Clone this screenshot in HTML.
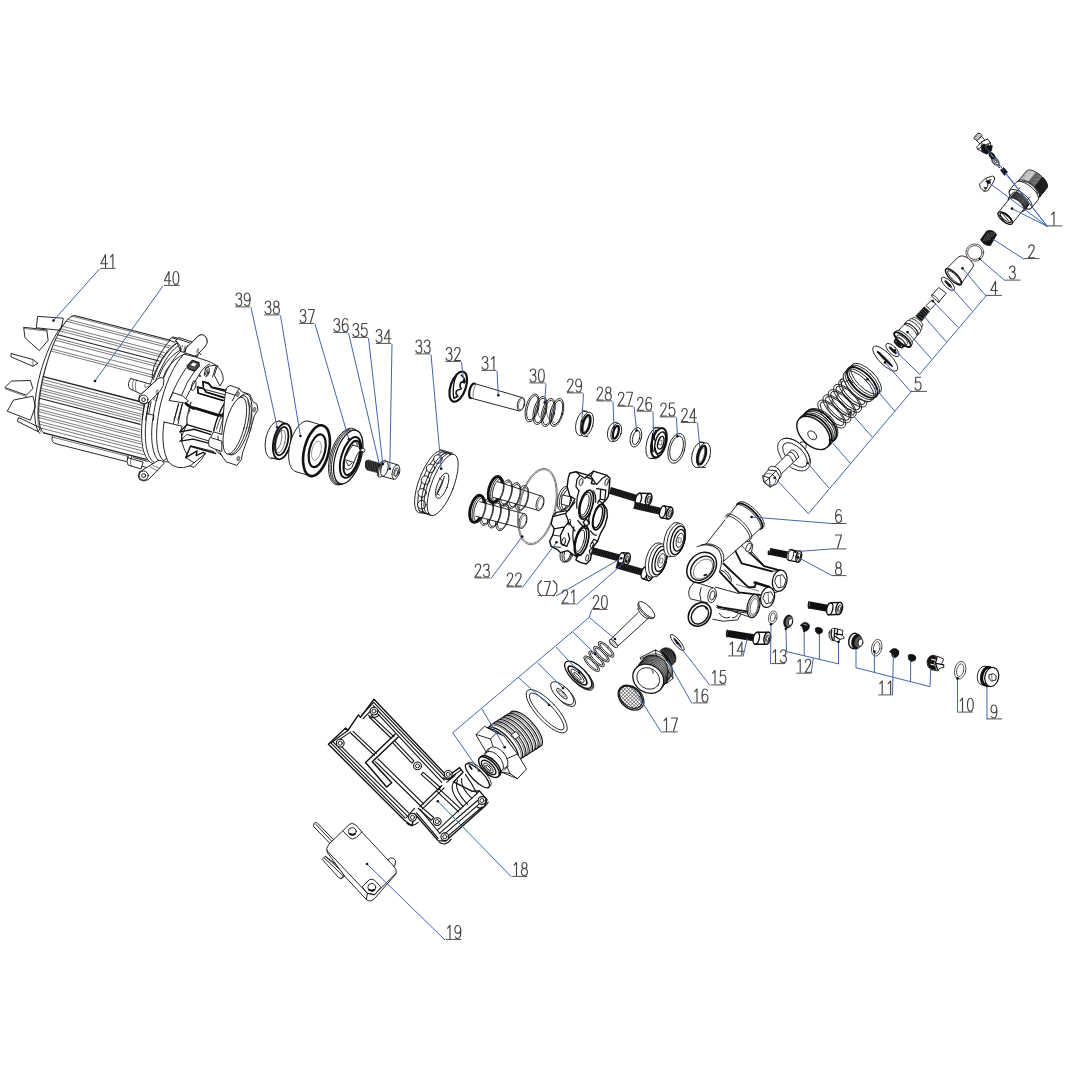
<!DOCTYPE html>
<html><head><meta charset="utf-8"><title>Exploded view</title>
<style>
html,body{margin:0;padding:0;background:#fff;font-family:"Liberation Sans",sans-serif;}
svg{display:block}
.k,.w,.t,.tw,.b,.kk{vector-effect:non-scaling-stroke}
.kk{fill:none;stroke:#111;stroke-width:1.8;stroke-linecap:round;stroke-linejoin:round}
.k{fill:none;stroke:#111;stroke-width:.9;stroke-linecap:round;stroke-linejoin:round}
.w{fill:#fff;stroke:#111;stroke-width:.9;stroke-linecap:round;stroke-linejoin:round}
.t{fill:none;stroke:#222;stroke-width:.6;stroke-linecap:round;stroke-linejoin:round}
.tw{fill:#fff;stroke:#222;stroke-width:.6;stroke-linejoin:round}
.b{fill:#111;stroke:#111;stroke-width:.6}
.l{fill:none;stroke:#4265ad;stroke-width:1}
.g{fill:none;stroke:#444;stroke-width:1.15;stroke-linecap:round;stroke-linejoin:round}
.u{fill:none;stroke:#484848;stroke-width:.95}
.d{fill:#111;stroke:none}
</style></head><body>
<svg width="1067" height="1067" viewBox="0 0 1067 1067">
<rect width="1067" height="1067" fill="#fff"/>
<defs><path id="g0" d="M3.5 0C1.6 0 .6 2 .6 6.5C.6 11 1.6 13 3.5 13C5.4 13 6.4 11 6.4 6.5C6.4 2 5.4 0 3.5 0Z"/><path id="g1" d="M1.6 2.6L4 0L4 13"/><path id="g2" d="M.8 3C.8 1.1 2 0 3.5 0C5.1 0 6.2 1.2 6.2 3C6.2 5 4.8 6.8 .5 13L6.6 13"/><path id="g3" d="M.8 2.4C1.1 .9 2.1 0 3.5 0C5.1 0 6.1 1.2 6.1 3C6.1 4.9 5 6 3.1 6C5.2 6 6.5 7.4 6.5 9.5C6.5 11.7 5.2 13 3.5 13C1.9 13 .8 12 .5 10.5"/><path id="g4" d="M5 13L5 0L.4 9.2L7 9.2"/><path id="g5" d="M6 0L1.3 0L.9 5.6C1.6 4.9 2.5 4.5 3.5 4.5C5.3 4.5 6.5 6 6.5 8.7C6.5 11.5 5.3 13 3.4 13C1.9 13 .9 12 .5 10.5"/><path id="g6" d="M6 1.6C5.5 .5 4.7 0 3.6 0C1.6 0 .6 2.5 .6 7C.6 11 1.6 13 3.5 13C5.3 13 6.5 11.5 6.5 9C6.5 6.6 5.3 5.2 3.6 5.2C2 5.2 .9 6.5 .6 8.4"/><path id="g7" d="M.5 0L6.5 0L2.6 13"/><path id="g8" d="M3.5 6C1.9 6 1 4.8 1 3C1 1.2 2 0 3.5 0C5 0 6 1.2 6 3C6 4.8 5.1 6 3.5 6C1.6 6 .5 7.5 .5 9.5C.5 11.7 1.7 13 3.5 13C5.3 13 6.5 11.7 6.5 9.5C6.5 7.5 5.4 6 3.5 6"/><path id="g9" d="M1 11.4C1.5 12.5 2.3 13 3.4 13C5.4 13 6.4 10.5 6.4 6C6.4 2 5.4 0 3.5 0C1.7 0 .5 1.5 .5 4C.5 6.4 1.7 7.8 3.4 7.8C5 7.8 6.1 6.5 6.4 4.6"/><path id="glp" d="M6 -1L2.5 3L2.5 10L6 14.5"/><path id="grp" d="M1 -1L4.5 3L4.5 10L1 14.5"/></defs><g id="01"><g transform="translate(940 110) scale(0.11903)"><path class="w" d="M726.8 512.4L734.2 506.7L744.5 503.9L757.4 504.1L772.4 507.3L789 513.3L806.5 521.9L824.2 532.9L841.4 545.7L857.5 559.9L871.9 574.9L884 590.2L893.3 605.2L899.6 619.2L902.4 631.8L901.8 642.5L897.8 650.8L831.7 732.4L824.4 738.1L814.1 740.9L801.2 740.7L786.1 737.5L769.6 731.5L752.1 722.9L734.4 711.9L717.2 699.1L701 684.9L686.7 669.9L674.6 654.6L665.2 639.6L659 625.6L656.1 613L656.7 602.3L660.8 594Z"/><ellipse class="w" cx="746.2" cy="663.2" rx="110" ry="46.2" transform="rotate(219 746.2 663.2)"/><path class="t" style="stroke-width:1.1" d="M798.3 644.1L807.9 654.5L816.5 664.9L823.8 675.3L829.7 685.5L834.1 695.2L837 704.2L838.3 712.5L838 719.9L836.1 726.2L832.5 731.3"/><path class="t" style="stroke:#333;stroke-width:.8" d="M746.2 603.5L755.4 609.1L764.5 615.3L773.4 622L782.1 629.1L790.5 636.5L798.3 644.1"/><path class="t" style="stroke:#666;stroke-width:.5" d="M665.5 588.8L671.5 585.3L679 583.3L687.9 582.9L698 584.1L709.1 586.8L721 591L733.5 596.6L746.2 603.5"/><path class="t" style="stroke-width:1.1" d="M799.9 642.1L809.5 652.5L818.1 663L825.4 673.4L831.3 683.5L835.7 693.2L838.7 702.3L840 710.6L839.6 717.9L837.7 724.2L834.2 729.3"/><path class="t" style="stroke-width:1.1" d="M801.5 640.1L811.2 650.5L819.7 661L827 671.4L832.9 681.5L837.4 691.2L840.3 700.3L841.6 708.6L841.2 715.9L839.3 722.2L835.8 727.3"/><path class="t" style="stroke:#333;stroke-width:.8" d="M749.4 599.5L758.6 605.2L767.7 611.4L776.7 618L785.3 625.1L793.7 632.5L801.5 640.1"/><path class="t" style="stroke-width:1.1" d="M803.2 638.2L812.8 648.5L821.3 659L828.6 669.4L834.5 679.5L839 689.2L841.9 698.3L843.2 706.6L842.8 713.9L840.9 720.2L837.4 725.4"/><path class="t" style="stroke-width:1.1" d="M804.8 636.2L814.4 646.5L822.9 657L830.2 667.4L836.1 677.5L840.6 687.2L843.5 696.3L844.8 704.6L844.4 712L842.5 718.3L839 723.4"/><path class="t" style="stroke:#333;stroke-width:.8" d="M752.6 595.5L761.8 601.2L770.9 607.4L779.9 614.1L788.5 621.1L796.9 628.5L804.8 636.2"/><path class="t" style="stroke:#666;stroke-width:.5" d="M671.9 580.9L677.9 577.4L685.4 575.4L694.3 575L704.4 576.2L715.5 578.9L727.4 583.1L739.9 588.6L752.6 595.5"/><path class="t" style="stroke-width:1.1" d="M806.4 634.2L816 644.6L824.5 655L831.8 665.4L837.7 675.6L842.2 685.3L845.1 694.3L846.4 702.6L846 710L844.1 716.3L840.6 721.4"/><path class="t" style="stroke-width:1.1" d="M808 632.2L817.6 642.6L826.1 653L833.4 663.4L839.3 673.6L843.8 683.3L846.7 692.3L848 700.6L847.7 708L845.7 714.3L842.2 719.4"/><path class="t" style="stroke:#333;stroke-width:.8" d="M755.8 591.6L765 597.2L774.1 603.4L783.1 610.1L791.8 617.2L800.1 624.6L808 632.2"/><path class="t" style="stroke-width:1.1" d="M809.6 630.2L819.2 640.6L827.7 651.1L835 661.5L840.9 671.6L845.4 681.3L848.3 690.4L849.6 698.7L849.3 706L847.3 712.3L843.8 717.4"/><path class="t" style="stroke-width:1.1" d="M811.2 628.3L820.8 638.6L829.3 649.1L836.6 659.5L842.5 669.6L847 679.3L849.9 688.4L851.2 696.7L850.9 704L848.9 710.3L845.4 715.5"/><path class="t" style="stroke:#333;stroke-width:.8" d="M759.1 587.6L768.2 593.3L777.3 599.5L786.3 606.1L795 613.2L803.3 620.6L811.2 628.3"/><path class="t" style="stroke:#666;stroke-width:.5" d="M678.3 572.9L684.3 569.4L691.8 567.5L700.7 567.1L710.8 568.2L722 570.9L733.9 575.1L746.3 580.7L759.1 587.6"/><path class="t" style="stroke-width:1.1" d="M812.8 626.3L822.4 636.6L830.9 647.1L838.2 657.5L844.1 667.6L848.6 677.3L851.5 686.4L852.8 694.7L852.5 702.1L850.5 708.4L847 713.5"/><path class="t" style="stroke-width:1.1" d="M814.4 624.3L824 634.6L832.5 645.1L839.8 655.5L845.7 665.7L850.2 675.3L853.1 684.4L854.4 692.7L854.1 700.1L852.1 706.4L848.6 711.5"/><path class="t" style="stroke:#333;stroke-width:.8" d="M762.3 583.6L771.4 589.3L780.6 595.5L789.5 602.2L798.2 609.2L806.5 616.6L814.4 624.3"/><path class="t" style="stroke-width:1.1" d="M816 622.3L825.6 632.7L834.1 643.1L841.4 653.5L847.3 663.7L851.8 673.4L854.7 682.4L856 690.7L855.7 698.1L853.7 704.4L850.2 709.5"/><path class="t" style="stroke-width:1.1" d="M817.6 620.3L827.2 630.7L835.7 641.2L843 651.6L848.9 661.7L853.4 671.4L856.3 680.5L857.6 688.8L857.3 696.1L855.3 702.4L851.8 707.5"/><path class="t" style="stroke:#333;stroke-width:.8" d="M765.5 579.7L774.7 585.3L783.8 591.5L792.7 598.2L801.4 605.3L809.7 612.7L817.6 620.3"/><path class="t" style="stroke:#666;stroke-width:.5" d="M684.8 565L690.7 561.5L698.3 559.6L707.2 559.2L717.3 560.3L728.4 563L740.3 567.2L752.7 572.8L765.5 579.7"/><path class="t" style="stroke-width:1.1" d="M819.2 618.3L828.8 628.7L837.3 639.2L844.6 649.6L850.5 659.7L855 669.4L857.9 678.5L859.2 686.8L858.9 694.1L856.9 700.4L853.4 705.5"/><path class="t" style="stroke-width:1.1" d="M820.8 616.4L830.4 626.7L838.9 637.2L846.2 647.6L852.2 657.7L856.6 667.4L859.5 676.5L860.8 684.8L860.5 692.1L858.5 698.4L855 703.6"/><path class="t" style="stroke:#333;stroke-width:.8" d="M768.7 575.7L777.9 581.4L787 587.6L795.9 594.2L804.6 601.3L812.9 608.7L820.8 616.4"/><path class="t" style="stroke-width:1.1" d="M822.4 614.4L832 624.7L840.5 635.2L847.8 645.6L853.8 655.7L858.2 665.4L861.1 674.5L862.4 682.8L862.1 690.2L860.2 696.5L856.6 701.6"/><path class="t" style="stroke-width:1.1" d="M824 612.4L833.6 622.8L842.1 633.2L849.4 643.6L855.4 653.8L859.8 663.5L862.7 672.5L864 680.8L863.7 688.2L861.8 694.5L858.2 699.6"/><path class="t" style="stroke:#333;stroke-width:.8" d="M771.9 571.7L781.1 577.4L790.2 583.6L799.1 590.3L807.8 597.3L816.1 604.7L824 612.4"/><path class="t" style="stroke:#666;stroke-width:.5" d="M691.2 557.1L697.2 553.6L704.7 551.6L713.6 551.2L723.7 552.4L734.8 555.1L746.7 559.3L759.2 564.9L771.9 571.7"/><path class="t" style="stroke-width:1.1" d="M825.6 610.4L835.2 620.8L843.7 631.2L851 641.6L857 651.8L861.4 661.5L864.3 670.5L865.6 678.8L865.3 686.2L863.4 692.5L859.8 697.6"/><path class="t" style="stroke-width:1.1" d="M827.2 608.4L836.8 618.8L845.4 629.3L852.6 639.7L858.6 649.8L863 659.5L865.9 668.6L867.2 676.9L866.9 684.2L865 690.5L861.4 695.6"/><path class="t" style="stroke:#333;stroke-width:.8" d="M775.1 567.8L784.3 573.4L793.4 579.6L802.3 586.3L811 593.4L819.3 600.8L827.2 608.4"/><path class="t" style="stroke-width:1.1" d="M828.8 606.5L838.4 616.8L847 627.3L854.2 637.7L860.2 647.8L864.6 657.5L867.5 666.6L868.8 674.9L868.5 682.2L866.6 688.5L863 693.7"/><path class="t" style="stroke-width:1.1" d="M830.4 604.5L840 614.8L848.6 625.3L855.9 635.7L861.8 645.8L866.2 655.5L869.1 664.6L870.4 672.9L870.1 680.3L868.2 686.6L864.6 691.7"/><path class="t" style="stroke:#333;stroke-width:.8" d="M778.3 563.8L787.5 569.5L796.6 575.7L805.5 582.3L814.2 589.4L822.5 596.8L830.4 604.5"/><path class="t" style="stroke:#666;stroke-width:.5" d="M697.6 549.1L703.6 545.7L711.1 543.7L720 543.3L730.1 544.5L741.2 547.2L753.1 551.3L765.6 556.9L778.3 563.8"/><path class="t" style="stroke-width:1.1" d="M832 602.5L841.6 612.8L850.2 623.3L857.5 633.7L863.4 643.9L867.8 653.5L870.7 662.6L872 670.9L871.7 678.3L869.8 684.6L866.2 689.7"/><path class="t" style="stroke-width:1.1" d="M833.6 600.5L843.2 610.9L851.8 621.3L859.1 631.7L865 641.9L869.4 651.6L872.4 660.6L873.7 668.9L873.3 676.3L871.4 682.6L867.9 687.7"/><path class="t" style="stroke:#333;stroke-width:.8" d="M781.5 559.9L790.7 565.5L799.8 571.7L808.8 578.4L817.4 585.5L825.8 592.9L833.6 600.5"/><path class="t" style="stroke-width:1.1" d="M835.2 598.5L844.9 608.9L853.4 619.4L860.7 629.8L866.6 639.9L871.1 649.6L874 658.7L875.3 667L874.9 674.3L873 680.6L869.5 685.7"/><path class="t" style="stroke-width:1.1" d="M836.9 596.5L846.5 606.9L855 617.4L862.3 627.8L868.2 637.9L872.7 647.6L875.6 656.7L876.9 665L876.5 672.3L874.6 678.6L871.1 683.7"/><path class="t" style="stroke:#333;stroke-width:.8" d="M784.7 555.9L793.9 561.6L803 567.8L812 574.4L820.6 581.5L829 588.9L836.9 596.5"/><path class="t" style="stroke:#666;stroke-width:.5" d="M704 541.2L710 537.7L717.5 535.8L726.4 535.4L736.5 536.5L747.6 539.2L759.5 543.4L772 549L784.7 555.9"/><path class="t" style="stroke-width:1.1" d="M838.5 594.6L848.1 604.9L856.6 615.4L863.9 625.8L869.8 635.9L874.3 645.6L877.2 654.7L878.5 663L878.1 670.4L876.2 676.6L872.7 681.8"/><path class="t" style="stroke-width:1.1" d="M840.1 592.6L849.7 602.9L858.2 613.4L865.5 623.8L871.4 633.9L875.9 643.6L878.8 652.7L880.1 661L879.7 668.4L877.8 674.7L874.3 679.8"/><path class="t" style="stroke:#333;stroke-width:.8" d="M787.9 551.9L797.1 557.6L806.2 563.8L815.2 570.5L823.9 577.5L832.2 584.9L840.1 592.6"/><path class="t" style="stroke-width:1.1" d="M841.7 590.6L851.3 601L859.8 611.4L867.1 621.8L873 632L877.5 641.7L880.4 650.7L881.7 659L881.4 666.4L879.4 672.7L875.9 677.8"/><path class="t" style="stroke-width:1.1" d="M843.3 588.6L852.9 599L861.4 609.4L868.7 619.8L874.6 630L879.1 639.7L882 648.8L883.3 657L883 664.4L881 670.7L877.5 675.8"/><path class="t" style="stroke:#333;stroke-width:.8" d="M791.1 548L800.3 553.6L809.4 559.8L818.4 566.5L827.1 573.6L835.4 581L843.3 588.6"/><path class="t" style="stroke:#666;stroke-width:.5" d="M710.4 533.3L716.4 529.8L723.9 527.9L732.8 527.4L742.9 528.6L754.1 531.3L766 535.5L778.4 541.1L791.1 548"/><path class="t" style="stroke-width:1.1" d="M844.9 586.6L854.5 597L863 607.5L870.3 617.9L876.2 628L880.7 637.7L883.6 646.8L884.9 655.1L884.6 662.4L882.6 668.7L879.1 673.8"/><path class="t" style="stroke-width:1.1" d="M846.5 584.7L856.1 595L864.6 605.5L871.9 615.9L877.8 626L882.3 635.7L885.2 644.8L886.5 653.1L886.2 660.4L884.2 666.7L880.7 671.9"/><path class="t" style="stroke:#333;stroke-width:.8" d="M794.4 544L803.5 549.7L812.7 555.9L821.6 562.5L830.3 569.6L838.6 577L846.5 584.7"/><path class="t" style="stroke-width:1.1" d="M848.1 582.7L857.7 593L866.2 603.5L873.5 613.9L879.4 624L883.9 633.7L886.8 642.8L888.1 651.1L887.8 658.5L885.8 664.8L882.3 669.9"/><path class="t" style="stroke-width:1.1" d="M849.7 580.7L859.3 591L867.8 601.5L875.1 611.9L881 622.1L885.5 631.7L888.4 640.8L889.7 649.1L889.4 656.5L887.4 662.8L883.9 667.9"/><path class="t" style="stroke:#333;stroke-width:.8" d="M797.6 540L806.8 545.7L815.9 551.9L824.8 558.6L833.5 565.6L841.8 573L849.7 580.7"/><path class="t" style="stroke:#666;stroke-width:.5" d="M716.9 525.4L722.8 521.9L730.3 519.9L739.3 519.5L749.4 520.7L760.5 523.4L772.4 527.6L784.8 533.2L797.6 540"/><path class="t" style="stroke-width:1.1" d="M851.3 578.7L860.9 589.1L869.4 599.5L876.7 609.9L882.6 620.1L887.1 629.8L890 638.8L891.3 647.1L891 654.5L889 660.8L885.5 665.9"/><path class="t" style="stroke-width:1.1" d="M852.9 576.7L862.5 587.1L871 597.6L878.3 608L884.2 618.1L888.7 627.8L891.6 636.9L892.9 645.2L892.6 652.5L890.6 658.8L887.1 663.9"/><path class="t" style="stroke:#333;stroke-width:.8" d="M800.8 536.1L810 541.7L819.1 547.9L828 554.6L836.7 561.7L845 569.1L852.9 576.7"/><path class="t" style="stroke-width:1.1" d="M854.5 574.7L864.1 585.1L872.6 595.6L879.9 606L885.9 616.1L890.3 625.8L893.2 634.9L894.5 643.2L894.2 650.5L892.2 656.8L888.7 661.9"/><path class="t" style="stroke-width:1.1" d="M856.1 572.8L865.7 583.1L874.2 593.6L881.5 604L887.5 614.1L891.9 623.8L894.8 632.9L896.1 641.2L895.8 648.6L893.9 654.8L890.3 660"/><path class="t" style="stroke:#333;stroke-width:.8" d="M804 532.1L813.2 537.8L822.3 544L831.2 550.6L839.9 557.7L848.2 565.1L856.1 572.8"/><path class="t" style="stroke:#666;stroke-width:.5" d="M723.3 517.4L729.3 514L736.8 512L745.7 511.6L755.8 512.8L766.9 515.5L778.8 519.6L791.2 525.2L804 532.1"/><path class="t" style="stroke-width:1.1" d="M857.7 570.8L867.3 581.1L875.8 591.6L883.1 602L889.1 612.1L893.5 621.8L896.4 630.9L897.7 639.2L897.4 646.6L895.5 652.9L891.9 658"/><path class="t" style="stroke-width:1.1" d="M859.3 568.8L868.9 579.2L877.4 589.6L884.7 600L890.7 610.2L895.1 619.9L898 628.9L899.3 637.2L899 644.6L897.1 650.9L893.5 656"/><path class="t" style="stroke:#333;stroke-width:.8" d="M807.2 528.2L816.4 533.8L825.5 540L834.4 546.7L843.1 553.7L851.4 561.2L859.3 568.8"/><path class="t" style="stroke-width:1.1" d="M860.9 566.8L870.5 577.2L879.1 587.6L886.3 598L892.3 608.2L896.7 617.9L899.6 627L900.9 635.2L900.6 642.6L898.7 648.9L895.1 654"/><path class="w" d="M679.7 605.5L685.6 601L693.8 598.7L704.2 598.9L716.2 601.4L729.5 606.2L743.4 613.1L757.6 621.9L771.4 632.1L784.3 643.5L795.8 655.5L805.5 667.8L812.9 679.7L817.9 691L820.2 701L819.7 709.6L816.5 716.3L798.9 738L793 742.6L784.8 744.8L774.4 744.6L762.4 742.1L749.2 737.3L735.2 730.4L721 721.6L707.2 711.4L694.4 700L682.8 688L673.2 675.7L665.7 663.8L660.7 652.5L658.4 642.5L658.9 633.9L662.1 627.2Z"/><ellipse class="w" cx="730.5" cy="682.6" rx="88" ry="37" transform="rotate(219 730.5 682.6)"/><path class="w" d="M638.8 608.4L646.7 602.3L657.7 599.3L671.6 599.5L687.7 602.9L705.5 609.3L724.2 618.6L743.2 630.4L761.7 644.1L779 659.3L794.4 675.5L807.4 691.9L817.4 707.9L824.1 723L827.2 736.5L826.5 748L822.2 756.9L768.7 822.9L760.9 829L749.8 832L735.9 831.8L719.8 828.4L702 822L683.3 812.7L664.3 800.9L645.8 787.2L628.5 772L613.1 755.9L600.1 739.5L590.1 723.4L583.4 708.3L580.4 694.8L581 683.4L585.3 674.4Z"/><ellipse class="w" cx="677" cy="748.7" rx="118" ry="49.6" transform="rotate(219 677 748.7)"/><path class="k" d="M617 720L670 654M702 796L755 730"/><path class="w" d="M611.7 695.8L617.3 691.5L625.2 689.4L635.1 689.5L646.6 691.9L659.2 696.5L672.5 703.1L686.1 711.5L699.2 721.3L711.5 732.1L722.5 743.6L731.7 755.3L738.9 766.7L743.6 777.4L745.8 787L745.4 795.2L742.3 801.6L707.7 844.3L702.1 848.6L694.2 850.8L684.3 850.6L672.9 848.2L660.2 843.6L646.9 837L633.4 828.6L620.2 818.8L607.9 808L596.9 796.5L587.7 784.9L580.5 773.4L575.8 762.7L573.6 753.1L574 744.9L577.1 738.6Z"/><ellipse class="w" cx="642.4" cy="791.4" rx="84" ry="35.3" transform="rotate(219 642.4 791.4)"/><path class="t" style="stroke-width:.9" d="M598.2 730.4L604.2 731L610.7 732.4L617.6 734.5L624.8 737.3L632.2 740.7L639.8 744.7L647.4 749.2L655 754.2L662.4 759.7L669.6 765.6L676.5 771.7L683 778.1L689 784.6L694.5 791.2L699.3 797.7L703.4 804.2L706.9 810.5L709.5 816.5L711.4 822.2L712.4 827.6L712.6 832.4L711.9 836.8L710.4 840.5L708.1 843.7"/><path class="t" style="stroke-width:.9" d="M601 727L607 727.6L613.5 729L620.4 731.1L627.6 733.8L635 737.2L642.6 741.2L650.2 745.8L657.8 750.8L665.2 756.3L672.4 762.2L679.3 768.3L685.8 774.7L691.8 781.2L697.2 787.8L702.1 794.3L706.2 800.8L709.6 807.1L712.3 813.1L714.1 818.8L715.2 824.1L715.3 829L714.7 833.3L713.2 837.1L710.9 840.2"/><path class="t" style="stroke-width:.9" d="M603.8 723.5L609.8 724.2L616.2 725.6L623.1 727.7L630.3 730.4L637.8 733.8L645.3 737.8L652.9 742.4L660.5 747.4L668 752.9L675.2 758.7L682 764.9L688.5 771.3L694.5 777.8L700 784.3L704.8 790.9L709 797.4L712.4 803.7L715.1 809.7L716.9 815.4L717.9 820.7L718.1 825.6L717.5 829.9L716 833.7L713.7 836.8"/><path class="t" style="stroke-width:.9" d="M606.5 720.1L612.5 720.8L619 722.2L625.9 724.2L633.1 727L640.5 730.4L648.1 734.4L655.7 738.9L663.3 744L670.7 749.5L677.9 755.3L684.8 761.5L691.3 767.8L697.3 774.3L702.8 780.9L707.6 787.5L711.8 793.9L715.2 800.2L717.8 806.3L719.7 812L720.7 817.3L720.9 822.2L720.2 826.5L718.7 830.3L716.4 833.4"/><path class="t" style="stroke-width:.9" d="M609.3 716.7L615.3 717.4L621.8 718.7L628.7 720.8L635.9 723.6L643.3 727L650.9 731L658.5 735.5L666.1 740.6L673.5 746.1L680.7 751.9L687.6 758L694.1 764.4L700.1 770.9L705.5 777.5L710.4 784.1L714.5 790.5L717.9 796.8L720.6 802.9L722.4 808.6L723.5 813.9L723.7 818.7L723 823.1L721.5 826.8L719.2 830"/><path class="t" style="stroke-width:.9" d="M612.1 713.3L618.1 713.9L624.6 715.3L631.4 717.4L638.6 720.2L646.1 723.6L653.6 727.6L661.3 732.1L668.8 737.2L676.3 742.6L683.5 748.5L690.4 754.6L696.8 761L702.8 767.5L708.3 774.1L713.1 780.6L717.3 787.1L720.7 793.4L723.4 799.4L725.2 805.1L726.2 810.5L726.4 815.3L725.8 819.7L724.3 823.4L722 826.6"/><path class="t" style="stroke-width:.9" d="M614.8 709.9L620.8 710.5L627.3 711.9L634.2 714L641.4 716.7L648.8 720.1L656.4 724.1L664 728.7L671.6 733.7L679 739.2L686.2 745.1L693.1 751.2L699.6 757.6L705.6 764.1L711.1 770.7L715.9 777.2L720.1 783.7L723.5 790L726.1 796L728 801.7L729 807L729.2 811.9L728.5 816.2L727 820L724.7 823.1"/><path class="t" style="stroke-width:.9" d="M617.6 706.4L623.6 707.1L630.1 708.5L637 710.6L644.2 713.3L651.6 716.7L659.2 720.7L666.8 725.3L674.4 730.3L681.8 735.8L689 741.6L695.9 747.8L702.4 754.2L708.4 760.7L713.8 767.2L718.7 773.8L722.8 780.3L726.3 786.6L728.9 792.6L730.8 798.3L731.8 803.6L732 808.5L731.3 812.8L729.8 816.6L727.5 819.7"/><path class="t" style="stroke-width:.9" d="M620.4 703L626.4 703.7L632.9 705.1L639.7 707.1L646.9 709.9L654.4 713.3L661.9 717.3L669.6 721.8L677.1 726.9L684.6 732.4L691.8 738.2L698.7 744.4L705.1 750.7L711.2 757.2L716.6 763.8L721.4 770.4L725.6 776.8L729 783.1L731.7 789.2L733.5 794.9L734.5 800.2L734.7 805.1L734.1 809.4L732.6 813.2L730.3 816.3"/><path class="t" style="stroke-width:.9" d="M623.1 699.6L629.1 700.3L635.6 701.6L642.5 703.7L649.7 706.5L657.1 709.9L664.7 713.9L672.3 718.4L679.9 723.5L687.3 729L694.5 734.8L701.4 740.9L707.9 747.3L713.9 753.8L719.4 760.4L724.2 767L728.4 773.4L731.8 779.7L734.4 785.8L736.3 791.5L737.3 796.8L737.5 801.6L736.8 806L735.4 809.7L733 812.9"/><path class="t" style="stroke-width:.9" d="M625.9 696.2L631.9 696.9L638.4 698.2L645.3 700.3L652.5 703.1L659.9 706.5L667.5 710.5L675.1 715L682.7 720.1L690.1 725.5L697.3 731.4L704.2 737.5L710.7 743.9L716.7 750.4L722.1 757L727 763.5L731.1 770L734.6 776.3L737.2 782.3L739.1 788L740.1 793.4L740.3 798.2L739.6 802.6L738.1 806.3L735.8 809.5"/><path class="t" style="stroke-width:.9" d="M628.7 692.8L634.7 693.4L641.2 694.8L648 696.9L655.2 699.6L662.7 703L670.3 707L677.9 711.6L685.4 716.6L692.9 722.1L700.1 728L707 734.1L713.5 740.5L719.5 747L724.9 753.6L729.7 760.1L733.9 766.6L737.3 772.9L740 778.9L741.8 784.6L742.9 789.9L743 794.8L742.4 799.1L740.9 802.9L738.6 806.1"/><path class="w" d="M584.9 744.9L589.8 741L596.8 739.2L605.5 739.3L615.6 741.4L626.7 745.5L638.5 751.3L650.4 758.7L662 767.3L672.8 776.8L682.5 786.9L690.6 797.2L696.9 807.3L701.1 816.7L703 825.2L702.6 832.4L699.9 838L605.5 954.6L600.6 958.4L593.6 960.3L584.9 960.1L574.8 958L563.7 954L551.9 948.1L540 940.8L528.4 932.2L517.6 922.6L507.9 912.5L499.8 902.2L493.5 892.1L489.3 882.7L487.4 874.2L487.8 867L490.5 861.4Z"/><ellipse class="w" cx="548" cy="908" rx="74" ry="31.1" transform="rotate(219 548 908)"/><ellipse class="w" cx="548" cy="908" rx="31.1" ry="74" transform="rotate(-51 548 908)" style="stroke-width:1.2"/><ellipse class="k" cx="551" cy="905" rx="20.7" ry="58" transform="rotate(-51 551 905)" style="stroke-width:1.2"/><path class="k" d="M500 885L545 945M525 870L580 935M555 865L600 915"/><path class="w" d="M335 620L380 575L440 555Q465 560 460 580L440 620L400 680L370 682L340 655Z"/><path class="k" d="M380 575Q410 590 400 640Q395 665 370 682M385 600L430 585"/><path class="b" d="M392 598L420 590L425 615L400 622Z"/><circle class="k" cx="378" cy="655" r="7"/><path class="b" d="M508 505L535 483L567 520L542 550Z"/><ellipse class="k" cx="495" cy="472" rx="8" ry="13" transform="rotate(-40 495 472)"/><ellipse class="w" style="stroke:#555;stroke-width:1.6" cx="465" cy="430" rx="22" ry="38" transform="rotate(-40 465 430)"/><ellipse class="k" cx="465" cy="430" rx="8" ry="16" transform="rotate(-40 465 430)"/><ellipse class="k" cx="437" cy="385" rx="13" ry="26" transform="rotate(-40 437 385)" style="stroke-width:2.2"/><path class="w" d="M285 235L318 195Q345 190 352 215L318 258Z"/><path class="t" d="M292 228L318 250"/><path class="t" d="M301 218L326 240"/><path class="t" d="M310 208L334 230"/><path class="t" d="M319 198L342 220"/><path class="w" d="M312 255L350 222L375 250L340 285Z"/><path class="w" d="M310 310L350 268L400 243L422 275L432 320L392 362L350 347L318 330Z"/><path class="k" d="M350 268L355 305L318 330M355 305L405 285L422 275M405 285L410 330"/><path class="b" d="M345 300Q350 290 360 300L440 300L432 345L392 372L352 352Z"/></g></g>
<g id="05a"><g transform="translate(755 350) scale(0.13121)"><ellipse class="w" cx="297" cy="797" rx="92" ry="150" transform="rotate(-45 297 797)"/><ellipse class="k" cx="305" cy="800" rx="62" ry="118" transform="rotate(-45 305 800)"/><path class="k" d="M345 705Q375 690 390 720Q395 745 380 755"/><path class="w" style="stroke:none" d="M140 900L275 765L335 815L195 950Z"/><path class="k" d="M140 900L275 765M195 950L335 815"/><path class="k" d="M240 800Q265 790 290 850M262 778Q290 770 315 830M280 762Q310 755 332 812"/><path class="k" d="M219.6 675.1L229.1 673.3L239.3 672.6L249.9 673L261 674.5L272.4 677.1L284 680.8L295.8 685.5L307.5 691.3L319.2 697.9L330.6 705.5L341.8 713.8L352.6 722.9L362.8 732.7L372.5 743.1L381.5 753.9L389.7 765.1L397.2 776.6L403.7 788.3L409.2 800L413.8 811.8L417.3 823.4L419.8 834.7L421.1 845.7L421.4 856.3"/><ellipse class="w" cx="150" cy="935" rx="40" ry="58" transform="rotate(-45 150 935)"/><path class="w" d="M60 960L100 915L160 920L190 965L165 1020L115 1045L70 1010Z"/><path class="k" d="M60 960L110 975L160 920M110 975L115 1045M110 975L70 1010"/><ellipse class="t" cx="112" cy="985" rx="42" ry="50" transform="rotate(-45 112 985)"/><ellipse class="w" cx="505" cy="572" rx="95" ry="152" transform="rotate(-45 505 572)"/><ellipse class="kk" cx="495" cy="582" rx="95" ry="152" transform="rotate(-45 495 582)"/><ellipse class="k" cx="483" cy="594" rx="95" ry="152" transform="rotate(-45 483 594)"/><ellipse class="k" cx="471" cy="606" rx="95" ry="152" transform="rotate(-45 471 606)"/><ellipse class="kk" cx="459" cy="618" rx="95" ry="152" transform="rotate(-45 459 618)"/><ellipse class="w" cx="445" cy="632" rx="95" ry="152" transform="rotate(-45 445 632)" style="stroke-width:1.4"/><ellipse class="k" cx="436" cy="650" rx="27" ry="40" transform="rotate(-45 436 650)"/><ellipse class="k" cx="585" cy="488" rx="60" ry="138" transform="rotate(-45 585 488)"/><ellipse class="k" cx="588" cy="485" rx="46" ry="120" transform="rotate(-45 588 485)"/><ellipse class="k" cx="625" cy="448" rx="60" ry="138" transform="rotate(-45 625 448)"/><ellipse class="k" cx="628" cy="445" rx="46" ry="120" transform="rotate(-45 628 445)"/><ellipse class="k" cx="665" cy="408" rx="60" ry="138" transform="rotate(-45 665 408)"/><ellipse class="k" cx="668" cy="405" rx="46" ry="120" transform="rotate(-45 668 405)"/><ellipse class="k" cx="705" cy="368" rx="60" ry="138" transform="rotate(-45 705 368)"/><ellipse class="k" cx="708" cy="365" rx="46" ry="120" transform="rotate(-45 708 365)"/><ellipse class="k" cx="745" cy="328" rx="60" ry="138" transform="rotate(-45 745 328)"/><ellipse class="k" cx="748" cy="325" rx="46" ry="120" transform="rotate(-45 748 325)"/><ellipse class="k" cx="785" cy="288" rx="60" ry="138" transform="rotate(-45 785 288)"/><ellipse class="k" cx="788" cy="285" rx="46" ry="120" transform="rotate(-45 788 285)"/><path class="k" d="M655.9 530.4L650.4 530L644.2 528.5L637.4 526L630.1 522.6L622.5 518.3L614.7 513.1L606.8 507.2L598.9 500.7L591.3 493.7L583.9 486.2L577 478.5L570.7 470.6L565.1 462.7L560.2 454.9L556.1 447.4L553 440.3L550.9 433.7L549.8 427.7L549.7 422.4L550.6 418L552.6 414.4L555.5 411.8L559.4 410.2L564.1 409.6"/><path class="k" d="M693.9 492.4L688.4 492L682.2 490.5L675.4 488L668.1 484.6L660.5 480.3L652.7 475.1L644.8 469.2L636.9 462.7L629.3 455.7L621.9 448.2L615 440.5L608.7 432.6L603.1 424.7L598.2 416.9L594.1 409.4L591 402.3L588.9 395.7L587.8 389.7L587.7 384.4L588.6 380L590.6 376.4L593.5 373.8L597.4 372.2L602.1 371.6"/><path class="k" d="M731.9 454.4L726.4 454L720.2 452.5L713.4 450L706.1 446.6L698.5 442.3L690.7 437.1L682.8 431.2L674.9 424.7L667.3 417.7L659.9 410.2L653 402.5L646.7 394.6L641.1 386.7L636.2 378.9L632.1 371.4L629 364.3L626.9 357.7L625.8 351.7L625.7 346.4L626.6 342L628.6 338.4L631.5 335.8L635.4 334.2L640.1 333.6"/><path class="k" d="M769.9 416.4L764.4 416L758.2 414.5L751.4 412L744.1 408.6L736.5 404.3L728.7 399.1L720.8 393.2L712.9 386.7L705.3 379.7L697.9 372.2L691 364.5L684.7 356.6L679.1 348.7L674.2 340.9L670.1 333.4L667 326.3L664.9 319.7L663.8 313.7L663.7 308.4L664.6 304L666.6 300.4L669.5 297.8L673.4 296.2L678.1 295.6"/><path class="k" d="M807.9 378.4L802.4 378L796.2 376.5L789.4 374L782.1 370.6L774.5 366.3L766.7 361.1L758.8 355.2L750.9 348.7L743.3 341.7L735.9 334.2L729 326.5L722.7 318.6L717.1 310.7L712.2 302.9L708.1 295.4L705 288.3L702.9 281.7L701.8 275.7L701.7 270.4L702.6 266L704.6 262.4L707.5 259.8L711.4 258.2L716.1 257.6"/><ellipse class="w" cx="790" cy="275" rx="70" ry="150" transform="rotate(-45 790 275)"/><ellipse class="k" cx="804" cy="261" rx="70" ry="150" transform="rotate(-45 804 261)"/><ellipse class="kk" cx="818" cy="247" rx="70" ry="150" transform="rotate(-45 818 247)"/><ellipse class="k" cx="832" cy="233" rx="70" ry="150" transform="rotate(-45 832 233)"/><ellipse class="k" cx="846" cy="219" rx="70" ry="150" transform="rotate(-45 846 219)"/><path class="k" d="M690 240Q720 215 745 250M660 260Q640 230 665 215"/></g></g>
<g id="05b"><g transform="translate(860 230) scale(0.13121)"><ellipse class="w" cx="192" cy="980" rx="46" ry="127" transform="rotate(-45 192 980)"/><ellipse class="b" cx="192" cy="985" rx="9" ry="82" transform="rotate(-45 192 985)"/><path class="kk" d="M135 930L150 940"/><ellipse class="w" cx="248" cy="915" rx="28" ry="66" transform="rotate(-45 248 915)"/><ellipse class="b" cx="250" cy="917" rx="9" ry="38" transform="rotate(-45 250 917)"/><path class="w" d="M403.7 668.6L406.6 666.6L410.8 666L416.1 666.6L422.3 668.5L429.3 671.6L436.6 675.9L444 681L451.3 686.9L458.2 693.2L464.4 699.9L469.6 706.5L473.7 712.9L476.5 718.7L477.9 723.9L477.9 728.1L476.4 731.3L462 748L459.1 749.9L454.9 750.6L449.6 749.9L443.4 748L436.5 744.9L429.2 740.7L421.7 735.5L414.4 729.7L407.5 723.3L401.3 716.7L396.1 710L392 703.7L389.2 697.8L387.8 692.6L387.8 688.4L389.3 685.2Z"/><ellipse class="w" cx="425.7" cy="716.6" rx="48" ry="17.3" transform="rotate(220.8 425.7 716.6)"/><path class="w" d="M381.8 678.7L385.3 676.3L390.3 675.5L396.7 676.3L404.3 678.6L412.6 682.4L421.5 687.5L430.5 693.7L439.3 700.8L447.6 708.5L455.1 716.5L461.4 724.5L466.4 732.2L469.8 739.3L471.5 745.6L471.4 750.7L469.6 754.5L453.2 773.4L449.7 775.8L444.7 776.6L438.3 775.8L430.7 773.5L422.4 769.7L413.5 764.6L404.5 758.4L395.7 751.3L387.4 743.6L379.9 735.6L373.6 727.6L368.6 719.9L365.3 712.8L363.6 706.6L363.6 701.4L365.4 697.6Z"/><ellipse class="w" cx="409.3" cy="735.5" rx="58" ry="20.9" transform="rotate(220.8 409.3 735.5)"/><path class="w" d="M359.4 692.4L363.4 689.7L369.1 688.8L376.4 689.7L385 692.3L394.5 696.6L404.6 702.4L414.8 709.5L424.9 717.5L434.3 726.3L442.8 735.4L450 744.5L455.6 753.3L459.5 761.4L461.4 768.5L461.4 774.3L459.3 778.6L443 797.6L439 800.3L433.2 801.2L425.9 800.3L417.4 797.7L407.9 793.4L397.8 787.6L387.5 780.5L377.5 772.4L368 763.7L359.5 754.6L352.3 745.4L346.7 736.7L342.8 728.6L340.9 721.5L341 715.7L343 711.3Z"/><ellipse class="w" cx="393" cy="754.4" rx="66" ry="23.8" transform="rotate(220.8 393 754.4)"/><path class="w" d="M349.1 716.5L352.6 714.2L357.7 713.4L364.1 714.2L371.6 716.5L380 720.2L388.8 725.3L397.8 731.5L406.7 738.6L415 746.3L422.4 754.3L428.7 762.4L433.7 770.1L437.1 777.2L438.8 783.4L438.7 788.5L436.9 792.3L425.2 806L421.6 808.3L416.6 809.1L410.2 808.4L402.6 806L394.3 802.3L385.4 797.2L376.4 791L367.6 783.9L359.3 776.2L351.8 768.2L345.5 760.2L340.6 752.5L337.2 745.3L335.5 739.1L335.5 734L337.3 730.2Z"/><ellipse class="w" cx="381.2" cy="768.1" rx="58" ry="20.9" transform="rotate(220.8 381.2 768.1)"/><path class="w" d="M331.3 724.9L335.3 722.3L341 721.3L348.3 722.2L356.9 724.9L366.4 729.2L376.5 735L386.7 742L396.8 750.1L406.2 758.8L414.7 768L421.9 777.1L427.6 785.8L431.4 793.9L433.3 801L433.3 806.9L431.2 811.2L385.5 864.2L381.5 866.9L375.7 867.8L368.4 866.9L359.9 864.3L350.4 860L340.3 854.2L330 847.1L320 839.1L310.5 830.3L302 821.2L294.8 812.1L289.2 803.3L285.3 795.2L283.4 788.1L283.5 782.3L285.5 777.9Z"/><ellipse class="w" cx="335.5" cy="821.1" rx="66" ry="23.8" transform="rotate(220.8 335.5 821.1)"/><path class="w" d="M274.9 768.8L279.8 765.5L286.8 764.4L295.6 765.5L306 768.7L317.5 773.9L329.7 780.9L342.2 789.5L354.3 799.3L365.8 809.9L376.1 820.9L384.8 832L391.6 842.6L396.3 852.4L398.7 861L398.6 868.1L396.1 873.3L384.3 887L379.5 890.2L372.5 891.3L363.7 890.3L353.3 887.1L341.7 881.9L329.5 874.8L317.1 866.3L304.9 856.5L293.5 845.9L283.2 834.8L274.5 823.8L267.6 813.1L262.9 803.3L260.6 794.7L260.7 787.7L263.2 782.4Z"/><ellipse class="w" cx="323.7" cy="834.7" rx="80" ry="28.8" transform="rotate(220.8 323.7 834.7)"/><path class="w" d="M285.9 802L288.9 800L293.3 799.3L298.8 800L305.3 802L312.5 805.2L320.1 809.6L327.9 815L335.5 821.1L342.7 827.7L349.1 834.6L354.6 841.5L358.8 848.2L361.8 854.3L363.2 859.7L363.2 864.1L361.6 867.4L348.5 882.5L345.5 884.5L341.2 885.2L335.6 884.6L329.1 882.6L321.9 879.3L314.3 874.9L306.5 869.6L298.9 863.5L291.8 856.8L285.3 849.9L279.9 843L275.6 836.4L272.7 830.2L271.2 824.9L271.3 820.4L272.8 817.2Z"/><ellipse class="w" cx="310.7" cy="849.8" rx="50" ry="18" transform="rotate(220.8 310.7 849.8)"/><path class="w" d="M280.4 823.7L282.8 822.1L286.3 821.5L290.7 822L295.9 823.6L301.7 826.2L307.8 829.8L314 834L320.1 838.9L325.8 844.2L331 849.8L335.3 855.3L338.7 860.6L341.1 865.5L342.3 869.8L342.2 873.3L341 876L325.3 894.1L322.9 895.8L319.4 896.3L315 895.8L309.8 894.2L304 891.6L297.9 888.1L291.7 883.8L285.6 878.9L279.9 873.6L274.7 868.1L270.4 862.5L266.9 857.2L264.6 852.3L263.4 848L263.5 844.5L264.7 841.9Z"/><ellipse class="w" cx="295" cy="868" rx="40" ry="14.4" transform="rotate(220.8 295 868)"/><ellipse class="k" cx="323.7" cy="834.7" rx="29" ry="80" transform="rotate(-49 323.7 834.7)" style="stroke-width:1.8"/><ellipse class="k" cx="295" cy="868" rx="14" ry="40" transform="rotate(-49 295 868)" style="stroke-width:1.6"/><ellipse class="b" cx="295" cy="868" rx="8" ry="26" transform="rotate(-49 295 868)"/><path class="b" d="M425 655L490 585L530 620L470 695Z"/><path class="t" style="stroke:#aaa;stroke-width:.5" d="M438 642L478 680"/><path class="t" style="stroke:#aaa;stroke-width:.5" d="M452 628L490 666"/><path class="t" style="stroke:#aaa;stroke-width:.5" d="M466 614L502 652"/><path class="t" style="stroke:#aaa;stroke-width:.5" d="M480 600L514 638"/><path class="t" style="stroke:#aaa;stroke-width:.5" d="M494 586L526 624"/><path class="w" d="M505 575L545 535L578 562L538 605Z"/><path class="w" d="M545 500L600 438L657 482L600 550Z"/><path class="k" d="M543.7 496.7L545.3 495.6L547.4 494.9L549.9 494.8L552.8 495.2L556 496.1L559.5 497.5L563.2 499.4L567 501.7L571 504.4L574.9 507.4L578.8 510.8L582.6 514.4L586.2 518.2L589.6 522.1L592.6 526L595.3 530L597.6 533.8L599.5 537.5L600.9 541L601.8 544.2L602.2 547.1L602.1 549.6L601.4 551.7L600.3 553.3"/><ellipse class="w" cx="670" cy="410" rx="27" ry="66" transform="rotate(-45 670 410)"/><ellipse class="b" cx="672" cy="412" rx="8" ry="36" transform="rotate(-45 672 412)"/><path class="w" d="M655 300L745 210Q780 180 830 220Q870 260 865 275L770 412Z"/><ellipse class="w" cx="713" cy="357" rx="30" ry="82" transform="rotate(-45 713 357)" style="stroke-width:1.4"/><ellipse class="k" cx="718" cy="360" rx="20" ry="68" transform="rotate(-45 718 360)"/><ellipse class="w" cx="875" cy="172" rx="68" ry="66" style="stroke:#444"/><ellipse class="k" cx="875" cy="172" rx="55" ry="53" style="stroke:#444"/><path class="b" d="M918 75L965 8Q1010 -10 1042 35L995 118Q950 125 918 75Z"/><path class="t" style="stroke:#999;stroke-width:.5" d="M935 88L975 22"/><path class="t" style="stroke:#999;stroke-width:.5" d="M951 84L989 20"/><path class="t" style="stroke:#999;stroke-width:.5" d="M967 80L1003 18"/><path class="t" style="stroke:#999;stroke-width:.5" d="M983 76L1017 16"/><path class="t" style="stroke:#999;stroke-width:.5" d="M999 72L1031 14"/></g></g>
<g id="06manifold"><g transform="translate(680 490) scale(0.13121)"><path class="w" style="stroke:none" d="M60 760L110 700L280 760L300 880L250 990L110 860Z"/><path class="k" d="M75 745Q55 790 80 830L210 860M110 700L75 745M110 700L250 745M160 745Q140 790 160 845"/><ellipse class="w" cx="245" cy="802" rx="32" ry="57" transform="rotate(10 245 802)"/><ellipse class="k" cx="247" cy="804" rx="18" ry="35" transform="rotate(10 247 804)"/><path class="k" d="M250 985L330 1000L440 990L465 945L420 930M300 940Q330 990 380 970M400 975Q430 975 440 950"/><ellipse class="w" cx="150" cy="948" rx="98" ry="78" transform="rotate(-50 150 948)" style="stroke-width:1.6"/><ellipse class="k" cx="152" cy="952" rx="76" ry="58" transform="rotate(-50 152 952)" style="stroke-width:1.4"/><path class="kk" d="M195 895L205 905"/><path class="w" style="stroke:none" d="M290 770L545 800L560 970L290 885Z"/><path class="k" d="M280 880L520 965M280 895L300 905L520 940"/><path class="kk" d="M290 890L510 925"/><path class="w" style="stroke:none" d="M470 560L770 612L740 778L640 895L540 800L300 760L330 560Z"/><path class="kk" d="M470 420L640 580L790 620"/><path class="kk" d="M420 460L470 560L700 620"/><path class="k" d="M470 420L430 450M520 440L640 575"/><path class="kk" d="M330 560L520 740L570 740L580 705"/><path class="kk" d="M300 620L450 780L610 800"/><path class="k" d="M270 740L450 790"/><path class="k" d="M340 610Q400 650 390 700M310 610Q350 620 380 680"/><path class="kk" style="stroke-width:2.6" d="M570 705L680 740"/><path class="t" d="M430 720L600 770"/><path class="w" d="M470 420L490 395L535 390L555 420L545 475L520 480"/><ellipse class="k" cx="522" cy="437" rx="17" ry="35" transform="rotate(25 522 437)"/><path class="k" d="M700 620L770 612M740 778L700 790"/><ellipse class="w" cx="760" cy="692" rx="55" ry="82" transform="rotate(12 760 692)" style="stroke-width:1.2"/><path class="k" d="M738 655L782 645L808 688L790 738L745 745L722 702Z"/><path class="t" d="M765 660L768 733"/><ellipse class="w" cx="668" cy="818" rx="52" ry="78" transform="rotate(12 668 818)" style="stroke-width:1.2"/><path class="k" d="M648 785L692 776L716 815L697 858L655 866L633 828Z"/><path class="t" d="M672 790L675 852"/><ellipse class="w" cx="560" cy="885" rx="47" ry="90" transform="rotate(12 560 885)" style="stroke-width:1.2"/><ellipse class="k" style="stroke:#555" cx="562" cy="887" rx="37" ry="76" transform="rotate(12 562 887)"/><ellipse class="k" style="stroke:#555" cx="565" cy="889" rx="28" ry="62" transform="rotate(12 565 889)"/><path class="w" style="stroke:none" d="M355 215L450 95Q540 60 610 170Q660 250 620 290L330 540L200 410Z"/><path class="k" d="M450.4 95.4L455.6 91.7L462.3 89.7L470.4 89.4L479.7 90.8L490.2 93.8L501.5 98.5L513.5 104.7L526.1 112.3L538.9 121.2L551.8 131.2L564.6 142.3L576.9 154.1L588.7 166.4L599.8 179.2L609.8 192.1L618.7 204.9L626.3 217.5L632.5 229.5L637.2 240.8L640.2 251.3L641.6 260.6L641.3 268.7L639.3 275.4L635.6 280.6"/><path class="kk" d="M437.4 107.4L442.6 103.7L449.3 101.7L457.4 101.4L466.7 102.8L477.2 105.8L488.5 110.5L500.5 116.7L513.1 124.3L525.9 133.2L538.8 143.2L551.6 154.3L563.9 166.1L575.7 178.4L586.8 191.2L596.8 204.1L605.7 216.9L613.3 229.5L619.5 241.5L624.2 252.8L627.2 263.3L628.6 272.6L628.3 280.7L626.3 287.4L622.6 292.6"/><path class="k" d="M450 95Q430 105 428 122M636 281Q625 300 605 300"/><path class="k" d="M427.4 117.4L432.6 113.7L439.3 111.7L447.4 111.4L456.7 112.8L467.2 115.8L478.5 120.5L490.5 126.7L503.1 134.3L515.9 143.2L528.8 153.2L541.6 164.3L553.9 176.1L565.7 188.4L576.8 201.2L586.8 214.1L595.7 226.9L603.3 239.5L609.5 251.5L614.2 262.8L617.2 273.3L618.6 282.6L618.3 290.7L616.3 297.4L612.6 302.6"/><path class="k" d="M355.4 189.4L360.6 185.7L367.3 183.7L375.4 183.4L384.7 184.8L395.2 187.8L406.5 192.5L418.5 198.7L431.1 206.3L443.9 215.2L456.8 225.2L469.6 236.3L481.9 248.1L493.7 260.4L504.8 273.2L514.8 286.1L523.7 298.9L531.3 311.5L537.5 323.5L542.2 334.8L545.2 345.3L546.6 354.6L546.3 362.7L544.3 369.4L540.6 374.6"/><path class="k" d="M342.4 202.4L347.6 198.7L354.3 196.7L362.4 196.4L371.7 197.8L382.2 200.8L393.5 205.5L405.5 211.7L418.1 219.3L430.9 228.2L443.8 238.2L456.6 249.3L468.9 261.1L480.7 273.4L491.8 286.2L501.8 299.1L510.7 311.9L518.3 324.5L524.5 336.5L529.2 347.8L532.2 358.3L533.6 367.6L533.3 375.7L531.3 382.4L527.6 387.6"/><path class="k" d="M428 122L355 215M605 300L540 360M343 228L200 410M528 372L330 545"/><path class="w" style="stroke:none" d="M130 430Q210 395 290 450Q340 520 300 630L200 700L60 560Z"/><path class="k" d="M130 432Q210 395 290 450Q340 520 300 625"/><path class="k" d="M160 420Q240 390 310 450Q345 500 330 545"/><path class="t" d="M200 410Q270 420 305 470"/><ellipse class="w" cx="165" cy="590" rx="128" ry="100" transform="rotate(-48 165 590)" style="stroke-width:1.5"/><ellipse class="k" cx="170" cy="596" rx="104" ry="76" transform="rotate(-48 170 596)" style="stroke-width:1.3"/><ellipse class="t" cx="176" cy="602" rx="88" ry="60" transform="rotate(-48 176 602)"/><path class="kk" d="M185 650L200 645"/><path class="k" style="stroke-width:7;stroke-linecap:butt" d="M682 468L830 497"/><path class="kk" d="M676 468Q672 470 676 490"/><ellipse class="w" cx="835" cy="495" rx="20" ry="42" transform="rotate(12 835 495)"/><path class="w" style="stroke:none" d="M840 454L915 470L895 548L828 536Z"/><path class="k" d="M840 454L915 470M828 536L895 548" style="stroke-width:1.4"/><ellipse class="k" cx="845" cy="495" rx="20" ry="44" transform="rotate(12 845 495)"/><ellipse class="w" cx="905" cy="508" rx="20" ry="44" transform="rotate(12 905 508)" style="stroke-width:1.5"/><ellipse class="k" cx="906" cy="510" rx="12" ry="28" transform="rotate(12 906 510)"/></g></g>
<g id="09_14"><g transform="translate(720 590) scale(0.14995)"><path class="k" style="stroke-width:7.2;stroke-linecap:butt" d="M52 290L245 322"/><path class="kk" d="M49 270Q42 290 47 310"/><path class="w" style="stroke:none" d="M250 282L323 282L305 362L233 362Z"/><ellipse class="w" cx="242" cy="322" rx="20" ry="41" transform="rotate(12 242 322)" style="stroke-width:1.4"/><path class="k" d="M250 282L323 282M233 362L305 362" style="stroke-width:1.4"/><ellipse class="w" cx="315" cy="322" rx="21" ry="41" transform="rotate(12 315 322)" style="stroke-width:1.5"/><ellipse class="k" cx="317" cy="324" rx="12" ry="25" transform="rotate(12 317 324)"/><ellipse class="t" cx="317" cy="325" rx="7" ry="14" transform="rotate(12 317 325)"/><path class="k" style="stroke-width:7.2;stroke-linecap:butt" d="M597 100L735 125"/><path class="kk" d="M594 80Q587 100 592 120"/><path class="w" style="stroke:none" d="M740 85L803 83L785 163L723 165Z"/><ellipse class="w" cx="732" cy="125" rx="20" ry="41" transform="rotate(12 732 125)" style="stroke-width:1.4"/><path class="k" d="M740 85L803 83M723 165L785 163" style="stroke-width:1.4"/><ellipse class="w" cx="795" cy="123" rx="21" ry="41" transform="rotate(12 795 123)" style="stroke-width:1.5"/><ellipse class="k" cx="797" cy="125" rx="12" ry="25" transform="rotate(12 797 125)"/><ellipse class="t" cx="797" cy="126" rx="7" ry="14" transform="rotate(12 797 126)"/><ellipse class="w" style="stroke:#444" cx="352" cy="182" rx="28" ry="43" transform="rotate(12 352 182)"/><ellipse class="k" style="stroke:#444" cx="352" cy="182" rx="16" ry="29" transform="rotate(12 352 182)"/><ellipse class="b" cx="455" cy="210" rx="30" ry="44" transform="rotate(12 455 210)"/><ellipse class="w" style="stroke:none;fill:#666" cx="462" cy="211" rx="24" ry="36" transform="rotate(12 462 211)"/><ellipse class="w" cx="470" cy="213" rx="14" ry="23" transform="rotate(12 470 213)"/><path class="b" d="M535 235L555 218Q585 210 597 235Q600 260 575 275L555 268L548 245Z"/><path class="t" style="stroke:#fff" d="M558 228L580 235"/><path class="b" d="M635 255Q650 243 675 255Q692 268 680 285L655 295L638 280Z"/><path class="w" d="M728 285Q735 255 765 255L820 270L815 300L830 320L800 330L790 345L745 335Q722 320 728 285Z"/><path class="k" d="M745 270Q735 300 750 330M765 260L760 335M765 290L815 300M770 310L800 330M785 265L780 300" style="stroke-width:1.3"/><ellipse class="w" cx="895" cy="340" rx="36" ry="52" transform="rotate(12 895 340)" style="stroke-width:1.4"/><ellipse class="b" cx="912" cy="345" rx="34" ry="50" transform="rotate(12 912 345)"/><ellipse class="w" style="stroke:none;fill:#555" cx="925" cy="348" rx="27" ry="40" transform="rotate(12 925 348)"/><ellipse class="w" cx="937" cy="351" rx="16" ry="25" transform="rotate(12 937 351)"/></g><g transform="translate(850 620) scale(0.14995)"><ellipse class="w" style="stroke:#444" cx="178" cy="185" rx="34" ry="57" transform="rotate(12 178 185)"/><ellipse class="k" style="stroke:#444" cx="178" cy="185" rx="21" ry="40" transform="rotate(12 178 185)"/><path class="b" d="M262 210L285 192Q315 185 327 212Q330 238 303 252L283 245L277 222Z"/><path class="b" d="M388 235Q405 222 430 235Q447 250 435 268L408 278L390 262Z"/><path class="w" d="M515 275Q520 240 555 235L605 250L625 262L612 290L628 315L598 322L588 340L545 332Q510 315 515 275Z"/><path class="b" d="M520 265Q525 240 555 238L575 245L560 290L575 330L545 330Q512 312 520 265Z"/><path class="t" style="stroke:#fff;stroke-width:1.2" d="M545 262L575 270M540 295L560 300"/><path class="k" d="M580 250L570 290L585 330M575 290L625 300" style="stroke-width:1.3"/><ellipse class="w" style="stroke:#444" cx="735" cy="335" rx="37" ry="60" transform="rotate(12 735 335)"/><ellipse class="k" style="stroke:#444" cx="735" cy="335" rx="23" ry="43" transform="rotate(12 735 335)"/><ellipse class="w" cx="890" cy="370" rx="40" ry="63" transform="rotate(12 890 370)"/><path class="k" d="M905 310L960 318M880 430L935 442"/><ellipse class="k" cx="915" cy="375" rx="40" ry="62" transform="rotate(12 915 375)" style="stroke-width:2.2"/><ellipse class="k" cx="926" cy="377" rx="42" ry="62" transform="rotate(12 926 377)" style="stroke-width:1.6"/><ellipse class="w" cx="945" cy="380" rx="46" ry="64" transform="rotate(12 945 380)" style="stroke-width:1.2"/><path class="k" d="M930 365L955 358L975 372L972 400L945 408L928 392Z"/><path class="t" d="M945 362L947 405"/></g></g>
<g id="15_20a"><g transform="translate(540 590) scale(0.14995)"><path class="w" style="stroke:none" d="M655 150L465 335L515 378L715 195Z"/><path class="k" d="M655 150L465 335M715 195L515 378"/><ellipse class="w" cx="490" cy="357" rx="15" ry="36" transform="rotate(-45 490 357)"/><path class="t" d="M470 345L500 375M480 338L512 368M465 355L490 378"/><ellipse class="w" cx="693" cy="152" rx="20" ry="52" transform="rotate(-45 693 152)"/><ellipse class="w" cx="706" cy="138" rx="26" ry="72" transform="rotate(-45 706 138)"/><ellipse class="w" cx="712" cy="131" rx="26" ry="72" transform="rotate(-45 712 131)"/><ellipse class="w" cx="345" cy="492" rx="24" ry="70" transform="rotate(-45 345 492)"/><ellipse class="k" cx="345" cy="492" rx="14" ry="57" transform="rotate(-45 345 492)"/><ellipse class="w" cx="377" cy="460" rx="24" ry="70" transform="rotate(-45 377 460)"/><ellipse class="k" cx="377" cy="460" rx="14" ry="57" transform="rotate(-45 377 460)"/><ellipse class="w" cx="409" cy="428" rx="24" ry="70" transform="rotate(-45 409 428)"/><ellipse class="k" cx="409" cy="428" rx="14" ry="57" transform="rotate(-45 409 428)"/><ellipse class="w" cx="441" cy="396" rx="24" ry="70" transform="rotate(-45 441 396)"/><ellipse class="k" cx="441" cy="396" rx="14" ry="57" transform="rotate(-45 441 396)"/><ellipse class="w" cx="268" cy="578" rx="50" ry="118" transform="rotate(-45 268 578)"/><ellipse class="k" cx="262" cy="572" rx="50" ry="118" transform="rotate(-45 262 572)"/><ellipse class="w" cx="255" cy="565" rx="50" ry="118" transform="rotate(-45 255 565)" style="stroke-width:1.3"/><ellipse class="k" cx="250" cy="570" rx="30" ry="84" transform="rotate(-45 250 570)" style="stroke-width:1.6"/><ellipse class="k" cx="250" cy="572" rx="19" ry="60" transform="rotate(-45 250 572)"/><ellipse class="k" cx="250" cy="574" rx="8" ry="34" transform="rotate(-45 250 574)"/><ellipse class="w" cx="160" cy="700" rx="44" ry="100" transform="rotate(-45 160 700)"/><ellipse class="w" cx="148" cy="688" rx="44" ry="100" transform="rotate(-45 148 688)"/><ellipse class="k" cx="146" cy="692" rx="15" ry="48" transform="rotate(-45 146 692)"/><ellipse class="t" cx="146" cy="692" rx="8" ry="30" transform="rotate(-45 146 692)"/><ellipse class="w" cx="915" cy="350" rx="20" ry="68" transform="rotate(-40 915 350)"/><ellipse class="b" cx="917" cy="352" rx="6" ry="40" transform="rotate(-40 917 352)"/><path class="w" d="M670 450L770 400L805 418L880 515L887 590L845 622L760 640Z"/><path class="k" d="M770 400L775 440L855 540L887 590M855 540L845 622"/><path class="b" d="M800 405Q830 370 875 395Q915 430 905 475L880 505Z"/><path class="t" style="stroke:#888;stroke-width:.5" d="M808 400Q850 420 885 498"/><path class="t" style="stroke:#888;stroke-width:.5" d="M822 397Q860 426 889 490"/><path class="t" style="stroke:#888;stroke-width:.5" d="M836 394Q870 432 893 482"/><path class="t" style="stroke:#888;stroke-width:.5" d="M850 391Q880 438 897 474"/><path class="t" style="stroke:#888;stroke-width:.5" d="M864 388Q890 444 901 466"/><path class="w" style="stroke:none;fill:#aaa" d="M625 545L680 455Q760 410 830 470Q870 530 840 600L790 670Z"/><path class="t" style="stroke:#111;stroke-width:.7" d="M625.7 544.1L632 532.3L640.3 521.7L650.2 512.7L661.7 505.3L674.4 499.7L688.1 496.1L702.6 494.5L717.5 495L732.4 497.5L747.2 502L761.4 508.5L774.8 516.6L787 526.4L797.9 537.6L807.2 549.9L814.7 563.1L820.2 576.9L823.7 591L825 605.2L824.1 619L821.1 632.3L816 644.8L808.9 656.1L800 666.1"/><path class="t" style="stroke:#111;stroke-width:.7" d="M632.8 535.5L639.2 523.7L647.4 513.2L657.3 504.1L668.8 496.7L681.5 491.2L695.3 487.6L709.7 486L724.6 486.4L739.6 489L754.3 493.5L768.5 499.9L781.9 508.1L794.2 517.9L805.1 529L814.3 541.3L821.8 554.5L827.4 568.3L830.8 582.5L832.1 596.6L831.3 610.5L828.2 623.8L823.1 636.2L816 647.6L807.1 657.5"/><path class="t" style="stroke:#111;stroke-width:.7" d="M640 527L646.3 515.2L654.5 504.6L664.5 495.6L675.9 488.2L688.7 482.6L702.4 479L716.9 477.4L731.7 477.9L746.7 480.4L761.4 484.9L775.6 491.4L789 499.5L801.3 509.3L812.2 520.5L821.5 532.8L829 546L834.5 559.8L837.9 573.9L839.2 588.1L838.4 601.9L835.4 615.2L830.2 627.7L823.1 639L814.2 649"/><path class="t" style="stroke:#111;stroke-width:.7" d="M647.1 518.4L653.4 506.6L661.6 496.1L671.6 487L683 479.6L695.8 474.1L709.5 470.5L724 468.9L738.8 469.3L753.8 471.9L768.6 476.4L782.8 482.8L796.1 491L808.4 500.8L819.3 511.9L828.6 524.2L836.1 537.4L841.6 551.2L845.1 565.4L846.4 579.5L845.5 593.4L842.5 606.7L837.4 619.1L830.3 630.5L821.3 640.4"/><path class="t" style="stroke:#111;stroke-width:.7" d="M654.2 509.9L660.5 498.1L668.8 487.5L678.7 478.5L690.2 471.1L702.9 465.5L716.6 461.9L731.1 460.3L746 460.8L760.9 463.3L775.7 467.8L789.9 474.3L803.3 482.4L815.5 492.2L826.4 503.4L835.7 515.7L843.2 528.9L848.7 542.7L852.2 556.8L853.5 571L852.6 584.8L849.6 598.1L844.5 610.6L837.4 621.9L828.5 631.9"/><path class="t" style="stroke:#111;stroke-width:.7" d="M661.3 501.3L667.7 489.5L675.9 479L685.8 469.9L697.3 462.5L710 457L723.8 453.4L738.2 451.8L753.1 452.2L768.1 454.8L782.8 459.3L797 465.7L810.4 473.9L822.7 483.7L833.6 494.8L842.8 507.1L850.3 520.3L855.9 534.1L859.3 548.3L860.6 562.4L859.8 576.3L856.7 589.6L851.6 602L844.5 613.4L835.6 623.3"/><path class="t" style="stroke:#111;stroke-width:.7" d="M668.5 492.8L674.8 481L683 470.4L693 461.4L704.4 454L717.2 448.4L730.9 444.8L745.4 443.2L760.2 443.7L775.2 446.2L789.9 450.7L804.1 457.2L817.5 465.3L829.8 475.1L840.7 486.3L850 498.6L857.5 511.8L863 525.6L866.4 539.7L867.7 553.9L866.9 567.7L863.9 581L858.7 593.5L851.6 604.8L842.7 614.8"/><path class="t" style="stroke:#111;stroke-width:.7" d="M675.6 484.2L681.9 472.4L690.1 461.9L700.1 452.8L711.5 445.4L724.3 439.9L738 436.3L752.5 434.7L767.3 435.1L782.3 437.7L797.1 442.2L811.3 448.6L824.6 456.8L836.9 466.6L847.8 477.7L857.1 490L864.6 503.2L870.1 517L873.6 531.2L874.9 545.3L874 559.2L871 572.5L865.9 584.9L858.8 596.3L849.8 606.2"/><path class="t" style="stroke:#111;stroke-width:.7" d="M682.7 475.7L689 463.9L697.3 453.3L707.2 444.3L718.7 436.9L731.4 431.3L745.1 427.7L759.6 426.1L774.5 426.6L789.4 429.1L804.2 433.6L818.4 440.1L831.8 448.2L844 458L854.9 469.2L864.2 481.5L871.7 494.7L877.2 508.5L880.7 522.6L882 536.8L881.1 550.6L878.1 563.9L873 576.4L865.9 587.7L857 597.7"/><path class="k" d="M680 455Q760 410 830 470Q870 530 840 600"/><ellipse class="w" cx="722" cy="592" rx="108" ry="92" transform="rotate(35 722 592)" style="stroke-width:1.3"/><ellipse class="k" cx="722" cy="590" rx="80" ry="68" transform="rotate(35 722 590)"/><path class="k" d="M745 535Q760 540 755 555"/><clipPath id="c17"><ellipse cx="605" cy="715" rx="62" ry="88" transform="rotate(-48 605 715)"/></clipPath><ellipse class="w" cx="607" cy="718" rx="70" ry="97" transform="rotate(-48 607 718)" style="stroke-width:1.2"/><ellipse class="w" cx="605" cy="715" rx="62" ry="88" transform="rotate(-48 605 715)" style="stroke-width:1.3"/><g clip-path="url(#c17)"><path class="t" style="stroke:#222;stroke-width:.6" d="M217 600L417 800M417 620L217 820M241 600L441 800M441 620L241 820M265 600L465 800M465 620L265 820M289 600L489 800M489 620L289 820M313 600L513 800M513 620L313 820M337 600L537 800M537 620L337 820M361 600L561 800M561 620L361 820M385 600L585 800M585 620L385 820M409 600L609 800M609 620L409 820M433 600L633 800M633 620L433 820M457 600L657 800M657 620L457 820M481 600L681 800M681 620L481 820M505 600L705 800M705 620L505 820M529 600L729 800M729 620L529 820M553 600L753 800M753 620L553 820M577 600L777 800M777 620L577 820M601 600L801 800M801 620L601 820M625 600L825 800M825 620L625 820M649 600L849 800M849 620L649 820M673 600L873 800M873 620L673 820M697 600L897 800M897 620L697 820M721 600L921 800M921 620L721 820M745 600L945 800M945 620L745 820M769 600L969 800M969 620L769 820M793 600L993 800M993 620L793 820"/></g></g></g>
<g id="18"><g transform="translate(320 690) scale(0.16870)"><path class="w" d="M320 55L755 512L828 460L848 488L792 545L900 600L945 598L990 650L975 690L745 895L700 893L560 732L545 805L500 772L50 322L152 225L165 240L228 148L240 162Z" style="stroke-width:1.4"/><path class="k" d="M318 74L748 522M316 92L736 534M314 110L722 548" style="stroke-width:1.1"/><path class="k" d="M64 314L505 760M80 310L515 745M97 306L527 730" style="stroke-width:1.1"/><path class="k" d="M318 74L246 150M165 240L64 314M182 248L97 306M314 110L255 170" style="stroke-width:1.1"/><path class="k" d="M760 528L835 475M752 546L805 500" style="stroke-width:1.1"/><path class="k" d="M962 692L738 884M948 672L722 868M934 655L708 850M945 598L928 616L695 832" style="stroke-width:1.1"/><path class="k" d="M700 880L572 728M712 852L592 706M560 702L512 756" style="stroke-width:1.1"/><path class="k" d="M292 160L422 286M304 150L438 276" style="stroke-width:1.1"/><path class="k" d="M445 262L270 430L395 575L425 550L310 425L462 280" style="stroke-width:1.5"/><path class="k" d="M182 255L322 388M196 245L334 376" style="stroke-width:1.1"/><path class="k" d="M430 312L545 434L556 420L442 300" style="stroke-width:1.1"/><path class="k" d="M600 500L702 592L714 578L612 488Z" style="stroke-width:1.1"/><path class="k" d="M722 566L592 692M736 580L606 706" style="stroke-width:1.1"/><path class="k" d="M328 424L602 692M344 408L616 676" style="stroke-width:1.1"/><path class="k" d="M692 600L822 722M706 586L836 706" style="stroke-width:1.1"/><path class="k" d="M582 702L660 772L674 756L596 688" style="stroke-width:1.1"/><path class="k" d="M792 545Q760 600 850 692M815 535Q790 590 875 678M840 525Q830 575 900 642M862 500Q905 560 930 615" style="stroke-width:1.1"/><circle class="w" cx="320" cy="125" r="23" style="stroke-width:1.1"/><circle class="k" cx="320" cy="125" r="12"/><circle class="w" cx="120" cy="315" r="23" style="stroke-width:1.1"/><circle class="k" cx="120" cy="315" r="12"/><circle class="w" cx="578" cy="450" r="23" style="stroke-width:1.1"/><circle class="k" cx="578" cy="450" r="12"/><circle class="w" cx="760" cy="500" r="23" style="stroke-width:1.1"/><circle class="k" cx="760" cy="500" r="12"/><circle class="w" cx="960" cy="655" r="23" style="stroke-width:1.1"/><circle class="k" cx="960" cy="655" r="12"/><circle class="w" cx="740" cy="870" r="23" style="stroke-width:1.1"/><circle class="k" cx="740" cy="870" r="12"/><circle class="w" cx="695" cy="780" r="23" style="stroke-width:1.1"/><circle class="k" cx="695" cy="780" r="12"/><circle class="w" cx="548" cy="755" r="23" style="stroke-width:1.1"/><circle class="k" cx="548" cy="755" r="12"/><path class="k" d="M288 150Q310 178 352 150M515 790Q545 818 582 785M705 900Q740 932 777 885M930 692Q965 718 997 665M730 520Q760 545 795 510" style="stroke-width:1.1"/></g></g>
<g id="19"><g transform="translate(300 800) scale(0.11246)"><path class="w" d="M120 220Q125 195 150 200L300 355L265 385L125 240Z"/><path class="k" d="M140 215L280 365"/><path class="w" d="M200 525L225 500L410 640L395 680L365 700L345 690Z"/><path class="k" d="M225 500L400 660L365 700M215 515L385 675"/><path class="w" d="M380 275L440 215Q465 200 495 220L550 285L835 590Q865 620 855 655L665 875Q625 915 590 885L400 680L245 470Q225 430 255 395Z"/><path class="k" d="M380 275L440 335Q465 360 500 335L550 285"/><path class="k" d="M555 770L615 710Q640 695 665 715L720 775L665 840L600 830Z"/><path class="k" d="M235 445L600 830L590 885M600 830L660 845L850 655"/><path class="k" d="M785 530L805 515Q835 510 850 540L845 580L830 590"/><circle class="k" cx="465" cy="280" r="35"/><circle class="k" cx="638" cy="777" r="35"/><path class="kk" d="M445 300Q465 315 490 300M618 797Q638 812 662 797"/></g></g>
<g id="20b"><g transform="translate(420 670) scale(0.14995)"><ellipse class="w" cx="845" cy="275" rx="66" ry="188" transform="rotate(-43 845 275)"/><ellipse class="k" cx="845" cy="277" rx="46" ry="162" transform="rotate(-43 845 277)"/><ellipse class="w" cx="705" cy="395" rx="62" ry="152" transform="rotate(-42 705 395)" style="stroke-width:1.1"/><ellipse class="k" style="stroke-width:.6" cx="699" cy="400" rx="59" ry="148" transform="rotate(-42 699 400)"/><ellipse class="w" cx="683" cy="409" rx="62" ry="152" transform="rotate(-42 683 409)" style="stroke-width:1.1"/><ellipse class="k" style="stroke-width:.6" cx="677" cy="414" rx="59" ry="148" transform="rotate(-42 677 414)"/><ellipse class="w" cx="661" cy="423" rx="62" ry="152" transform="rotate(-42 661 423)" style="stroke-width:1.1"/><ellipse class="k" style="stroke-width:.6" cx="655" cy="428" rx="59" ry="148" transform="rotate(-42 655 428)"/><ellipse class="w" cx="639" cy="437" rx="62" ry="152" transform="rotate(-42 639 437)" style="stroke-width:1.1"/><ellipse class="k" style="stroke-width:.6" cx="633" cy="442" rx="59" ry="148" transform="rotate(-42 633 442)"/><ellipse class="w" cx="617" cy="451" rx="62" ry="152" transform="rotate(-42 617 451)" style="stroke-width:1.1"/><ellipse class="k" style="stroke-width:.6" cx="611" cy="456" rx="59" ry="148" transform="rotate(-42 611 456)"/><ellipse class="w" cx="595" cy="465" rx="62" ry="152" transform="rotate(-42 595 465)" style="stroke-width:1.1"/><ellipse class="k" style="stroke-width:.6" cx="589" cy="470" rx="59" ry="148" transform="rotate(-42 589 470)"/><ellipse class="w" cx="573" cy="479" rx="62" ry="152" transform="rotate(-42 573 479)" style="stroke-width:1.1"/><ellipse class="k" style="stroke-width:.6" cx="567" cy="484" rx="59" ry="148" transform="rotate(-42 567 484)"/><ellipse class="w" cx="548" cy="498" rx="60" ry="150" transform="rotate(-42 548 498)" style="stroke-width:1.2"/><ellipse class="w" cx="535" cy="508" rx="60" ry="150" transform="rotate(-42 535 508)" style="stroke-width:1.2"/><path class="w" d="M610 430L640 410L665 440L635 460Z"/><path class="w" d="M375 430L430 375L510 420L560 440L650 560L710 660L650 725L540 680L440 545Z"/><path class="k" d="M375 430L470 460L510 420M470 460L500 550L440 545M500 550L560 600L650 560M560 600L600 690L650 725M600 690L540 680"/><ellipse class="w" cx="520" cy="585" rx="50" ry="85" transform="rotate(-40 520 585)"/><path class="k" d="M455 525L430 560M590 640L560 670"/><ellipse class="w" cx="495" cy="610" rx="45" ry="80" transform="rotate(-40 495 610)"/><ellipse class="w" cx="470" cy="640" rx="42" ry="88" transform="rotate(-45 470 640)" style="stroke-width:1.5"/><ellipse class="w" cx="460" cy="648" rx="42" ry="88" transform="rotate(-45 460 648)" style="stroke-width:1.5"/><ellipse class="k" cx="458" cy="650" rx="28" ry="62" transform="rotate(-45 458 650)" style="stroke-width:1.3"/><ellipse class="k" cx="457" cy="652" rx="17" ry="42" transform="rotate(-45 457 652)"/><ellipse class="k" cx="456" cy="653" rx="8" ry="24" transform="rotate(-45 456 653)"/><ellipse class="w" cx="395" cy="695" rx="36" ry="108" transform="rotate(-45 395 695)"/><ellipse class="w" cx="383" cy="705" rx="36" ry="108" transform="rotate(-45 383 705)" style="stroke-width:1.3"/><path class="kk" d="M330 640L345 660"/></g></g>
<g id="23_21"><g transform="translate(460 460) scale(0.13121)"><ellipse class="k" cx="268" cy="225" rx="48" ry="102" transform="rotate(15 268 225)" style="stroke-width:2.8"/><path class="k" d="M259.1 326.6L253.5 324.2L248.5 320.2L244.1 314.7L240.4 307.7L237.4 299.4L235.3 289.9L234 279.4L233.6 268L234 256L235.4 243.5L237.6 230.8L240.6 218.1L244.3 205.6L248.8 193.5L253.9 182L259.5 171.4L265.5 161.8L271.9 153.3L278.5 146.1L285.2 140.4L291.9 136.2L298.5 133.6L304.9 132.7L310.9 133.4"/><path class="k" d="M266.5 315L262 313.1L258 309.7L254.5 305L251.6 299L249.4 291.8L247.8 283.7L246.9 274.6L246.8 264.7L247.4 254.3L248.7 243.5L250.6 232.5L253.3 221.4L256.5 210.5L260.3 200L264.6 190L269.3 180.7L274.4 172.2L279.7 164.8L285.1 158.5L290.6 153.4L296.1 149.7L301.5 147.3L306.7 146.4L311.5 147"/><path class="k" d="M322.1 346.6L316.5 344.2L311.5 340.2L307.1 334.7L303.4 327.7L300.4 319.4L298.3 309.9L297 299.4L296.6 288L297 276L298.4 263.5L300.6 250.8L303.6 238.1L307.3 225.6L311.8 213.5L316.9 202L322.5 191.4L328.5 181.8L334.9 173.3L341.5 166.1L348.2 160.4L354.9 156.2L361.5 153.6L367.9 152.7L373.9 153.4"/><path class="k" d="M329.5 335L325 333.1L321 329.7L317.5 325L314.6 319L312.4 311.8L310.8 303.7L309.9 294.6L309.8 284.7L310.4 274.3L311.7 263.5L313.6 252.5L316.3 241.4L319.5 230.5L323.3 220L327.6 210L332.3 200.7L337.4 192.2L342.7 184.8L348.1 178.5L353.6 173.4L359.1 169.7L364.5 167.3L369.7 166.4L374.5 167"/><path class="k" d="M386.1 366.6L380.5 364.2L375.5 360.2L371.1 354.7L367.4 347.7L364.4 339.4L362.3 329.9L361 319.4L360.6 308L361 296L362.4 283.5L364.6 270.8L367.6 258.1L371.3 245.6L375.8 233.5L380.9 222L386.5 211.4L392.5 201.8L398.9 193.3L405.5 186.1L412.2 180.4L418.9 176.2L425.5 173.6L431.9 172.7L437.9 173.4"/><path class="k" d="M393.5 355L389 353.1L385 349.7L381.5 345L378.6 339L376.4 331.8L374.8 323.7L373.9 314.6L373.8 304.7L374.4 294.3L375.7 283.5L377.6 272.5L380.3 261.4L383.5 250.5L387.3 240L391.6 230L396.3 220.7L401.4 212.2L406.7 204.8L412.1 198.5L417.6 193.4L423.1 189.7L428.5 187.3L433.7 186.4L438.5 187"/><path class="k" d="M446.1 388.6L440.5 386.2L435.5 382.2L431.1 376.7L427.4 369.7L424.4 361.4L422.3 351.9L421 341.4L420.6 330L421 318L422.4 305.5L424.6 292.8L427.6 280.1L431.3 267.6L435.8 255.5L440.9 244L446.5 233.4L452.5 223.8L458.9 215.3L465.5 208.1L472.2 202.4L478.9 198.2L485.5 195.6L491.9 194.7L497.9 195.4"/><path class="k" d="M453.5 377L449 375.1L445 371.7L441.5 367L438.6 361L436.4 353.8L434.8 345.7L433.9 336.6L433.8 326.7L434.4 316.3L435.7 305.5L437.6 294.5L440.3 283.4L443.5 272.5L447.3 262L451.6 252L456.3 242.7L461.4 234.2L466.7 226.8L472.1 220.5L477.6 215.4L483.1 211.7L488.5 209.3L493.7 208.4L498.5 209"/><path class="w" style="stroke:none" d="M285 165L620 275L600 385L255 285Z"/><path class="k" d="M285 165L620 275M255 285L600 385"/><ellipse class="w" cx="610" cy="330" rx="28" ry="57" transform="rotate(15 610 330)"/><ellipse class="t" cx="614" cy="331" rx="20" ry="45" transform="rotate(15 614 331)"/><path class="k" d="M310.9 133.4L316.5 135.8L321.5 139.8L325.9 145.3L329.6 152.3L332.6 160.6L334.7 170.1L336 180.6L336.4 192L336 204L334.6 216.5L332.4 229.2L329.4 241.9L325.7 254.4L321.2 266.5L316.1 278L310.5 288.6L304.5 298.2L298.1 306.7L291.5 313.9L284.8 319.6L278.1 323.8L271.5 326.4L265.1 327.3L259.1 326.6"/><path class="k" d="M311.5 147L316 148.9L320 152.3L323.5 157L326.4 163L328.6 170.2L330.2 178.3L331.1 187.4L331.2 197.3L330.6 207.7L329.3 218.5L327.4 229.5L324.7 240.6L321.5 251.5L317.7 262L313.4 272L308.7 281.3L303.6 289.8L298.3 297.2L292.9 303.5L287.4 308.6L281.9 312.3L276.5 314.7L271.3 315.6L266.5 315"/><path class="k" d="M373.9 153.4L379.5 155.8L384.5 159.8L388.9 165.3L392.6 172.3L395.6 180.6L397.7 190.1L399 200.6L399.4 212L399 224L397.6 236.5L395.4 249.2L392.4 261.9L388.7 274.4L384.2 286.5L379.1 298L373.5 308.6L367.5 318.2L361.1 326.7L354.5 333.9L347.8 339.6L341.1 343.8L334.5 346.4L328.1 347.3L322.1 346.6"/><path class="k" d="M374.5 167L379 168.9L383 172.3L386.5 177L389.4 183L391.6 190.2L393.2 198.3L394.1 207.4L394.2 217.3L393.6 227.7L392.3 238.5L390.4 249.5L387.7 260.6L384.5 271.5L380.7 282L376.4 292L371.7 301.3L366.6 309.8L361.3 317.2L355.9 323.5L350.4 328.6L344.9 332.3L339.5 334.7L334.3 335.6L329.5 335"/><path class="k" d="M437.9 173.4L443.5 175.8L448.5 179.8L452.9 185.3L456.6 192.3L459.6 200.6L461.7 210.1L463 220.6L463.4 232L463 244L461.6 256.5L459.4 269.2L456.4 281.9L452.7 294.4L448.2 306.5L443.1 318L437.5 328.6L431.5 338.2L425.1 346.7L418.5 353.9L411.8 359.6L405.1 363.8L398.5 366.4L392.1 367.3L386.1 366.6"/><path class="k" d="M438.5 187L443 188.9L447 192.3L450.5 197L453.4 203L455.6 210.2L457.2 218.3L458.1 227.4L458.2 237.3L457.6 247.7L456.3 258.5L454.4 269.5L451.7 280.6L448.5 291.5L444.7 302L440.4 312L435.7 321.3L430.6 329.8L425.3 337.2L419.9 343.5L414.4 348.6L408.9 352.3L403.5 354.7L398.3 355.6L393.5 355"/><path class="k" d="M497.9 195.4L503.5 197.8L508.5 201.8L512.9 207.3L516.6 214.3L519.6 222.6L521.7 232.1L523 242.6L523.4 254L523 266L521.6 278.5L519.4 291.2L516.4 303.9L512.7 316.4L508.2 328.5L503.1 340L497.5 350.6L491.5 360.2L485.1 368.7L478.5 375.9L471.8 381.6L465.1 385.8L458.5 388.4L452.1 389.3L446.1 388.6"/><path class="k" d="M498.5 209L503 210.9L507 214.3L510.5 219L513.4 225L515.6 232.2L517.2 240.3L518.1 249.4L518.2 259.3L517.6 269.7L516.3 280.5L514.4 291.5L511.7 302.6L508.5 313.5L504.7 324L500.4 334L495.7 343.3L490.6 351.8L485.3 359.2L479.9 365.5L474.4 370.6L468.9 374.3L463.5 376.7L458.3 377.6L453.5 377"/><ellipse class="k" cx="128" cy="372" rx="49" ry="106" transform="rotate(15 128 372)" style="stroke-width:2.8"/><path class="k" d="M118.1 477.5L112.4 475L107.2 470.9L102.8 465.2L99 457.9L96 449.3L93.9 439.4L92.6 428.5L92.2 416.7L92.8 404.2L94.2 391.2L96.5 378.1L99.6 364.8L103.5 351.8L108.1 339.2L113.4 327.3L119.1 316.2L125.4 306.2L131.9 297.4L138.7 289.9L145.6 283.9L152.5 279.5L159.2 276.8L165.8 275.8L171.9 276.5"/><path class="k" d="M125.4 465.9L120.9 463.9L116.8 460.4L113.2 455.4L110.3 449.2L108 441.7L106.4 433.2L105.5 423.7L105.4 413.4L106.1 402.6L107.4 391.2L109.5 379.7L112.3 368.2L115.7 356.8L119.6 345.8L124.1 335.3L129 325.5L134.2 316.7L139.7 308.9L145.3 302.3L151 297L156.7 293L162.2 290.6L167.6 289.6L172.6 290.1"/><path class="k" d="M176.1 496.5L170.4 494L165.2 489.9L160.8 484.2L157 476.9L154 468.3L151.9 458.4L150.6 447.5L150.2 435.7L150.8 423.2L152.2 410.2L154.5 397.1L157.6 383.8L161.5 370.8L166.1 358.2L171.4 346.3L177.1 335.2L183.4 325.2L189.9 316.4L196.7 308.9L203.6 302.9L210.5 298.5L217.2 295.8L223.8 294.8L229.9 295.5"/><path class="k" d="M183.4 484.9L178.9 482.9L174.8 479.4L171.2 474.4L168.3 468.2L166 460.7L164.4 452.2L163.5 442.7L163.4 432.4L164.1 421.6L165.4 410.2L167.5 398.7L170.3 387.2L173.7 375.8L177.6 364.8L182.1 354.3L187 344.5L192.2 335.7L197.7 327.9L203.3 321.3L209 316L214.7 312L220.2 309.6L225.6 308.6L230.6 309.1"/><path class="k" d="M235.1 516.5L229.4 514L224.2 509.9L219.8 504.2L216 496.9L213 488.3L210.9 478.4L209.6 467.5L209.2 455.7L209.8 443.2L211.2 430.2L213.5 417.1L216.6 403.8L220.5 390.8L225.1 378.2L230.4 366.3L236.1 355.2L242.4 345.2L248.9 336.4L255.7 328.9L262.6 322.9L269.5 318.5L276.2 315.8L282.8 314.8L288.9 315.5"/><path class="k" d="M242.4 504.9L237.9 502.9L233.8 499.4L230.2 494.4L227.3 488.2L225 480.7L223.4 472.2L222.5 462.7L222.4 452.4L223.1 441.6L224.4 430.2L226.5 418.7L229.3 407.2L232.7 395.8L236.6 384.8L241.1 374.3L246 364.5L251.2 355.7L256.7 347.9L262.3 341.3L268 336L273.7 332L279.2 329.6L284.6 328.6L289.6 329.1"/><path class="k" d="M297.1 537.5L291.4 535L286.2 530.9L281.8 525.2L278 517.9L275 509.3L272.9 499.4L271.6 488.5L271.2 476.7L271.8 464.2L273.2 451.2L275.5 438.1L278.6 424.8L282.5 411.8L287.1 399.2L292.4 387.3L298.1 376.2L304.4 366.2L310.9 357.4L317.7 349.9L324.6 343.9L331.5 339.5L338.2 336.8L344.8 335.8L350.9 336.5"/><path class="k" d="M304.4 525.9L299.9 523.9L295.8 520.4L292.2 515.4L289.3 509.2L287 501.7L285.4 493.2L284.5 483.7L284.4 473.4L285.1 462.6L286.4 451.2L288.5 439.7L291.3 428.2L294.7 416.8L298.6 405.8L303.1 395.3L308 385.5L313.2 376.7L318.7 368.9L324.3 362.3L330 357L335.7 353L341.2 350.6L346.6 349.6L351.6 350.1"/><path class="w" style="stroke:none" d="M150 318L490 410L470 520L120 428Z"/><path class="k" d="M150 318L490 410M120 428L470 520"/><ellipse class="w" cx="480" cy="465" rx="28" ry="57" transform="rotate(15 480 465)"/><ellipse class="t" cx="484" cy="466" rx="20" ry="45" transform="rotate(15 484 466)"/><path class="k" d="M171.9 276.5L177.6 279L182.8 283.1L187.2 288.8L191 296.1L194 304.7L196.1 314.6L197.4 325.5L197.8 337.3L197.2 349.8L195.8 362.8L193.5 375.9L190.4 389.2L186.5 402.2L181.9 414.7L176.6 426.7L170.9 437.8L164.6 447.8L158.1 456.6L151.3 464.1L144.4 470.1L137.5 474.5L130.7 477.2L124.2 478.2L118.1 477.5"/><path class="k" d="M172.6 290.1L177.1 292.1L181.2 295.6L184.8 300.6L187.7 306.8L190 314.3L191.6 322.8L192.5 332.3L192.6 342.6L191.9 353.4L190.6 364.8L188.5 376.3L185.7 387.8L182.3 399.2L178.4 410.2L173.9 420.7L169 430.5L163.8 439.3L158.3 447.1L152.7 453.7L147 459L141.3 463L135.8 465.4L130.4 466.4L125.4 465.9"/><path class="k" d="M229.9 295.5L235.6 298L240.8 302.1L245.2 307.8L249 315.1L252 323.7L254.1 333.6L255.4 344.5L255.8 356.3L255.2 368.8L253.8 381.8L251.5 394.9L248.4 408.2L244.5 421.2L239.9 433.7L234.6 445.7L228.9 456.8L222.6 466.8L216.1 475.6L209.3 483.1L202.4 489.1L195.5 493.5L188.8 496.2L182.2 497.2L176.1 496.5"/><path class="k" d="M230.6 309.1L235.1 311.1L239.2 314.6L242.8 319.6L245.7 325.8L248 333.3L249.6 341.8L250.5 351.3L250.6 361.6L249.9 372.4L248.6 383.8L246.5 395.3L243.7 406.8L240.3 418.2L236.4 429.2L231.9 439.7L227 449.5L221.8 458.3L216.3 466.1L210.7 472.7L205 478L199.3 482L193.8 484.4L188.4 485.4L183.4 484.9"/><path class="k" d="M288.9 315.5L294.6 318L299.8 322.1L304.2 327.8L308 335.1L311 343.7L313.1 353.6L314.4 364.5L314.8 376.3L314.2 388.8L312.8 401.8L310.5 414.9L307.4 428.2L303.5 441.2L298.9 453.7L293.6 465.7L287.9 476.8L281.6 486.8L275.1 495.6L268.3 503.1L261.4 509.1L254.5 513.5L247.8 516.2L241.2 517.2L235.1 516.5"/><path class="k" d="M289.6 329.1L294.1 331.1L298.2 334.6L301.8 339.6L304.7 345.8L307 353.3L308.6 361.8L309.5 371.3L309.6 381.6L308.9 392.4L307.6 403.8L305.5 415.3L302.7 426.8L299.3 438.2L295.4 449.2L290.9 459.7L286 469.5L280.8 478.3L275.3 486.1L269.7 492.7L264 498L258.3 502L252.8 504.4L247.4 505.4L242.4 504.9"/><path class="k" d="M350.9 336.5L356.6 339L361.8 343.1L366.2 348.8L370 356.1L373 364.7L375.1 374.6L376.4 385.5L376.8 397.3L376.2 409.8L374.8 422.8L372.5 435.9L369.4 449.2L365.5 462.2L360.9 474.7L355.6 486.7L349.9 497.8L343.6 507.8L337.1 516.6L330.3 524.1L323.4 530.1L316.5 534.5L309.8 537.2L303.2 538.2L297.1 537.5"/><path class="k" d="M351.6 350.1L356.1 352.1L360.2 355.6L363.8 360.6L366.7 366.8L369 374.3L370.6 382.8L371.5 392.3L371.6 402.6L370.9 413.4L369.6 424.8L367.5 436.3L364.7 447.8L361.3 459.2L357.4 470.2L352.9 480.7L348 490.5L342.8 499.3L337.3 507.1L331.7 513.7L326 519L320.3 523L314.8 525.4L309.4 526.4L304.4 525.9"/><ellipse class="k" style="stroke:#555;stroke-width:.8" cx="590" cy="355" rx="141" ry="297" transform="rotate(12.6 590 355)"/><ellipse class="k" style="stroke:#555;stroke-width:.8" cx="590" cy="355" rx="133" ry="287" transform="rotate(12.6 590 355)"/></g><g transform="translate(545 465) scale(0.10309)"><ellipse class="w" cx="180" cy="325" rx="55" ry="120" transform="rotate(15 180 325)"/><ellipse class="k" cx="195" cy="328" rx="50" ry="112" transform="rotate(15 195 328)"/><ellipse class="k" cx="212" cy="332" rx="45" ry="104" transform="rotate(15 212 332)"/><path class="w" d="M170 290L250 310L235 400L160 380Z"/><ellipse class="w" cx="200" cy="850" rx="50" ry="95" transform="rotate(15 200 850)"/><ellipse class="k" cx="215" cy="853" rx="46" ry="90" transform="rotate(15 215 853)"/><ellipse class="k" cx="230" cy="856" rx="42" ry="85" transform="rotate(15 230 856)"/><path class="w" d="M240 80L300 65L420 100L470 60L600 100L630 130L625 200L615 300L600 330L560 370L600 430L605 500L580 590L540 660L510 740L470 790L450 870L440 920L400 960L340 945L300 920L320 870L290 880L220 830L150 850L120 820L60 790L45 740L75 680L90 620L60 570L75 500L110 460L230 440L290 330L240 300L215 210L225 130Z" style="stroke-width:1.4"/><path class="k" d="M300 65L340 100L310 140L300 210L330 250M420 100L390 130L340 100M470 60L445 110L500 190L555 130L600 100M445 110L420 100" style="stroke-width:1.2"/><path class="k" d="M400 115L460 140L450 180L480 185" style="stroke-width:1.5"/><ellipse class="k" cx="350" cy="165" rx="17" ry="36" transform="rotate(15 350 165)"/><ellipse class="k" cx="598" cy="165" rx="15" ry="34" transform="rotate(15 598 165)"/><ellipse class="k" cx="180" cy="745" rx="18" ry="40" transform="rotate(15 180 745)"/><ellipse class="k" cx="455" cy="775" rx="13" ry="30" transform="rotate(15 455 775)"/><ellipse class="k" cx="410" cy="900" rx="14" ry="32" transform="rotate(15 410 900)"/><ellipse class="k" cx="235" cy="555" rx="12" ry="30" transform="rotate(15 235 555)"/><path class="k" d="M540 235L590 245L580 340L535 330ZM500 230L540 235M535 330L510 370" style="stroke-width:1.3"/><path class="k" d="M75 500L200 470L230 555L190 600L90 620M200 470L290 360M230 555L290 640M190 600L150 680L155 760L210 790L240 720L225 660" style="stroke-width:1.3"/><path class="k" d="M75 680L150 690M60 790L150 800"/><ellipse class="k" cx="400" cy="385" rx="62" ry="145" transform="rotate(15 400 385)" style="stroke-width:1.8"/><ellipse class="k" cx="392" cy="385" rx="48" ry="125" transform="rotate(15 392 385)" style="stroke-width:1.2"/><ellipse class="k" cx="385" cy="385" rx="36" ry="105" transform="rotate(15 385 385)"/><ellipse class="k" cx="355" cy="735" rx="62" ry="148" transform="rotate(15 355 735)" style="stroke-width:1.8"/><ellipse class="k" cx="347" cy="735" rx="48" ry="128" transform="rotate(15 347 735)" style="stroke-width:1.2"/><ellipse class="k" cx="340" cy="735" rx="36" ry="108" transform="rotate(15 340 735)"/><ellipse class="k" cx="520" cy="505" rx="50" ry="128" transform="rotate(15 520 505)" style="stroke-width:1.8"/><ellipse class="k" cx="512" cy="505" rx="38" ry="108" transform="rotate(15 512 505)" style="stroke-width:1.2"/><path class="k" d="M400 520L370 555L395 595L430 570ZM320 540Q370 610 420 625M440 470Q415 520 430 560" style="stroke-width:1.4"/><path class="k" d="M330 250Q300 330 310 420M470 250Q500 300 490 360M280 600Q260 680 280 770M300 890L330 870M440 640Q480 690 500 680M560 370L520 345" style="stroke-width:1.2"/><path class="k" d="M470 790L430 830L440 870M510 740L475 720L450 760" style="stroke-width:1.2"/></g><g transform="translate(545 460) scale(0.13121)"><path class="k" style="stroke-width:7;stroke-linecap:butt" d="M495 232L715 298"/><path class="k" style="stroke-width:7;stroke-linecap:butt;stroke:#444;stroke-dasharray:.4 1.8" d="M495 232L715 298"/><path class="w" style="stroke:none" d="M723 253L800 255L778 345L701 343Z"/><ellipse class="w" cx="712" cy="298" rx="22" ry="46" transform="rotate(15 712 298)" style="stroke-width:1.4"/><path class="k" d="M723 253L800 255M701 343L778 345" style="stroke-width:1.4"/><ellipse class="w" cx="790" cy="300" rx="23" ry="46" transform="rotate(15 790 300)" style="stroke-width:1.5"/><ellipse class="k" cx="792" cy="302" rx="13" ry="28" transform="rotate(15 792 302)"/><ellipse class="t" cx="792" cy="304" rx="8" ry="17" transform="rotate(15 792 304)"/><path class="k" style="stroke-width:7;stroke-linecap:butt" d="M680 345L900 395"/><path class="k" style="stroke-width:7;stroke-linecap:butt;stroke:#444;stroke-dasharray:.4 1.8" d="M680 345L900 395"/><path class="w" style="stroke:none" d="M908 350L960 360L938 450L886 440Z"/><ellipse class="w" cx="897" cy="395" rx="22" ry="46" transform="rotate(15 897 395)" style="stroke-width:1.4"/><path class="k" d="M908 350L960 360M886 440L938 450" style="stroke-width:1.4"/><ellipse class="w" cx="950" cy="405" rx="23" ry="46" transform="rotate(15 950 405)" style="stroke-width:1.5"/><ellipse class="k" cx="952" cy="407" rx="13" ry="28" transform="rotate(15 952 407)"/><ellipse class="t" cx="952" cy="409" rx="8" ry="17" transform="rotate(15 952 409)"/><path class="k" style="stroke-width:7;stroke-linecap:butt" d="M360 690L585 752"/><path class="k" style="stroke-width:7;stroke-linecap:butt;stroke:#444;stroke-dasharray:.4 1.8" d="M360 690L585 752"/><path class="w" style="stroke:none" d="M593 707L635 710L613 800L571 797Z"/><ellipse class="w" cx="582" cy="752" rx="22" ry="46" transform="rotate(15 582 752)" style="stroke-width:1.4"/><path class="k" d="M593 707L635 710M571 797L613 800" style="stroke-width:1.4"/><ellipse class="w" cx="625" cy="755" rx="23" ry="46" transform="rotate(15 625 755)" style="stroke-width:1.5"/><ellipse class="k" cx="627" cy="757" rx="13" ry="28" transform="rotate(15 627 757)"/><ellipse class="t" cx="627" cy="759" rx="8" ry="17" transform="rotate(15 627 759)"/><path class="k" style="stroke-width:7;stroke-linecap:butt" d="M545 800L760 860"/><path class="k" style="stroke-width:7;stroke-linecap:butt;stroke:#444;stroke-dasharray:.4 1.8" d="M545 800L760 860"/><path class="w" style="stroke:none" d="M768 815L810 830L788 920L746 905Z"/><ellipse class="w" cx="757" cy="860" rx="22" ry="46" transform="rotate(15 757 860)" style="stroke-width:1.4"/><path class="k" d="M768 815L810 830M746 905L788 920" style="stroke-width:1.4"/><ellipse class="w" cx="800" cy="875" rx="23" ry="46" transform="rotate(15 800 875)" style="stroke-width:1.5"/><ellipse class="k" cx="802" cy="877" rx="13" ry="28" transform="rotate(15 802 877)"/><ellipse class="t" cx="802" cy="879" rx="8" ry="17" transform="rotate(15 802 879)"/><ellipse class="w" cx="838" cy="762" rx="68" ry="135" transform="rotate(15 838 762)"/><ellipse class="w" cx="860" cy="765" rx="66" ry="130" transform="rotate(15 860 765)"/><ellipse class="k" cx="872" cy="767" rx="52" ry="112" transform="rotate(15 872 767)" style="stroke-width:1.3"/><ellipse class="k" cx="882" cy="767" rx="40" ry="85" transform="rotate(15 882 767)" style="stroke-width:1.3"/><ellipse class="k" cx="888" cy="767" rx="26" ry="55" transform="rotate(15 888 767)"/><path class="t" d="M882 747l18 5l-6 35l-20 -5Z"/><ellipse class="w" cx="978" cy="607" rx="68" ry="135" transform="rotate(15 978 607)"/><ellipse class="w" cx="1000" cy="610" rx="66" ry="130" transform="rotate(15 1000 610)"/><ellipse class="k" cx="1012" cy="612" rx="52" ry="112" transform="rotate(15 1012 612)" style="stroke-width:1.3"/><ellipse class="k" cx="1022" cy="612" rx="40" ry="85" transform="rotate(15 1022 612)" style="stroke-width:1.3"/><ellipse class="k" cx="1028" cy="612" rx="26" ry="55" transform="rotate(15 1028 612)"/><path class="t" d="M1022 592l18 5l-6 35l-20 -5Z"/></g></g>
<g id="31_24"><g transform="translate(460 360) scale(0.13121)"><path class="w" style="stroke:none" d="M110 178L470 285L450 388L85 290Z"/><ellipse class="w" style="stroke:none" cx="95" cy="235" rx="22" ry="57" transform="rotate(14 95 235)"/><path class="k" style="stroke-width:2.2" d="M81.2 290.3L78.5 289.1L76.2 287L74.1 284.1L72.4 280.2L71.1 275.6L70.2 270.3L69.7 264.4L69.6 258L70 251.2L70.8 244.2L72 236.9L73.7 229.7L75.6 222.5L77.9 215.5L80.6 208.9L83.4 202.7L86.5 197.1L89.7 192.1L92.9 187.9L96.3 184.4L99.6 181.9L102.8 180.2L105.9 179.5L108.8 179.7"/><path class="k" d="M110 179L472 286M82 290L450 388"/><path class="t" d="M122 183Q95 230 100 294"/><ellipse class="w" cx="465" cy="336" rx="27" ry="52" transform="rotate(14 465 336)"/><ellipse class="t" cx="468" cy="337" rx="20" ry="44" transform="rotate(14 468 337)"/><ellipse class="k" cx="550" cy="365" rx="48" ry="110" transform="rotate(15 550 365)"/><ellipse class="k" cx="552" cy="365" rx="38" ry="96" transform="rotate(15 552 365)"/><ellipse class="k" cx="610" cy="385" rx="48" ry="110" transform="rotate(15 610 385)"/><ellipse class="k" cx="612" cy="385" rx="38" ry="96" transform="rotate(15 612 385)"/><ellipse class="k" cx="672" cy="400" rx="48" ry="110" transform="rotate(15 672 400)"/><ellipse class="k" cx="674" cy="400" rx="38" ry="96" transform="rotate(15 674 400)"/><ellipse class="k" cx="737" cy="400" rx="48" ry="110" transform="rotate(15 737 400)"/><ellipse class="k" cx="739" cy="400" rx="38" ry="96" transform="rotate(15 739 400)"/><path class="t" d="M600 340Q580 400 610 440M660 350Q650 420 690 470M690 380Q680 440 720 480"/><ellipse class="w" cx="935" cy="482" rx="50" ry="97" transform="rotate(15 935 482)"/><path class="k" d="M965 395L930 385M975 585L945 578"/><ellipse class="w" cx="967" cy="490" rx="46" ry="95" transform="rotate(15 967 490)"/><ellipse class="k" cx="962" cy="490" rx="27" ry="72" transform="rotate(15 962 490)" style="stroke-width:2.4"/><ellipse class="t" cx="962" cy="490" rx="18" ry="58" transform="rotate(15 962 490)"/></g><g transform="translate(590 390) scale(0.13121)"><ellipse class="w" cx="183" cy="320" rx="48" ry="76" transform="rotate(15 183 320)"/><ellipse class="w" cx="200" cy="322" rx="38" ry="70" transform="rotate(15 200 322)"/><ellipse class="k" cx="197" cy="322" rx="19" ry="50" transform="rotate(15 197 322)" style="stroke-width:2.2"/><ellipse class="w" cx="350" cy="360" rx="42" ry="76" transform="rotate(15 350 360)"/><ellipse class="k" cx="352" cy="362" rx="26" ry="56" transform="rotate(15 352 362)"/><ellipse class="w" cx="490" cy="405" rx="58" ry="122" transform="rotate(15 490 405)"/><path class="k" d="M520 285L480 288M505 525L470 520"/><ellipse class="w" cx="525" cy="402" rx="55" ry="115" transform="rotate(15 525 402)" style="stroke-width:2"/><ellipse class="k" cx="535" cy="402" rx="38" ry="85" transform="rotate(15 535 402)" style="stroke-width:1.4"/><ellipse class="k" cx="540" cy="402" rx="22" ry="50" transform="rotate(15 540 402)" style="stroke-width:1.4"/><path class="k" d="M480 330Q465 400 480 470M500 310Q485 350 490 380M495 440Q500 480 520 500" style="stroke-width:1.6"/><path class="t" d="M530 380L550 385L545 420L525 415Z"/><ellipse class="w" cx="660" cy="445" rx="62" ry="117" transform="rotate(15 660 445)"/><ellipse class="k" cx="660" cy="445" rx="48" ry="97" transform="rotate(15 660 445)"/><ellipse class="w" cx="835" cy="495" rx="57" ry="100" transform="rotate(15 835 495)"/><path class="k" d="M870 400L835 395M880 590L845 590"/><ellipse class="w" cx="865" cy="496" rx="50" ry="96" transform="rotate(15 865 496)"/><ellipse class="k" cx="852" cy="496" rx="28" ry="72" transform="rotate(15 852 496)" style="stroke-width:2.4"/><ellipse class="t" cx="852" cy="496" rx="18" ry="56" transform="rotate(15 852 496)"/></g></g>
<g id="36_32"><g transform="translate(360 360) scale(0.16878)"><path class="b" d="M32 612Q30 595 48 592L118 612L108 668L42 652Q28 640 32 612Z"/><path class="t" style="stroke:#777;stroke-width:.5" d="M48 594L40 650"/><path class="t" style="stroke:#777;stroke-width:.5" d="M58 596L50 652"/><path class="t" style="stroke:#777;stroke-width:.5" d="M68 599L60 655"/><path class="t" style="stroke:#777;stroke-width:.5" d="M78 602L70 658"/><path class="t" style="stroke:#777;stroke-width:.5" d="M88 605L80 661"/><path class="t" style="stroke:#777;stroke-width:.5" d="M98 608L90 664"/><path class="t" style="stroke:#777;stroke-width:.5" d="M108 610L100 666"/><ellipse class="w" cx="122" cy="645" rx="15" ry="48" transform="rotate(15 122 645)"/><ellipse class="w" cx="130" cy="647" rx="16" ry="50" transform="rotate(15 130 647)"/><ellipse class="w" cx="140" cy="630" rx="14" ry="38" transform="rotate(15 140 630)"/><path class="w" style="stroke:none" d="M150 600L222 622L205 707L135 690Z"/><ellipse class="w" cx="145" cy="645" rx="20" ry="45" transform="rotate(15 145 645)"/><path class="k" d="M157 601L225 622M133 689L200 707"/><ellipse class="w" cx="213" cy="664" rx="21" ry="43" transform="rotate(15 213 664)"/><ellipse class="k" cx="214" cy="665" rx="12" ry="26" transform="rotate(15 214 665)"/><ellipse class="t" cx="214" cy="668" rx="8" ry="17" transform="rotate(15 214 668)"/><ellipse class="w" cx="418" cy="722" rx="68" ry="196" transform="rotate(21 418 722)"/><ellipse class="k" cx="435" cy="726" rx="66" ry="194" transform="rotate(21 435 726)"/><ellipse class="w" cx="455" cy="730" rx="64" ry="192" transform="rotate(21 455 730)"/><path class="k" d="M470 530L548 552M350 892L420 922"/><circle class="w" cx="461" cy="587" r="25"/><circle class="w" cx="418" cy="642" r="25"/><circle class="w" cx="388" cy="712" r="25"/><circle class="w" cx="368" cy="787" r="25"/><circle class="w" cx="366" cy="857" r="25"/><path class="k" d="M410.8 906.3L398.6 910.4L388 909.8L379 904.7L371.9 895.1L367 881.3L364.4 863.7L364 842.6L366 818.6L370.2 792.4L376.6 764.6L385.1 735.9L395.3 707.1L407 678.8L419.9 651.8L433.8 626.9L448.2 604.6L462.7 585.4L477.1 570L490.9 558.7L503.8 551.7L515.4 549.3L525.5 551.5L533.8 558.3L540.1 569.4"/><path class="k" d="M425.8 910.3L413.6 914.4L403 913.8L394 908.7L386.9 899.1L382 885.3L379.4 867.7L379 846.6L381 822.6L385.2 796.4L391.6 768.6L400.1 739.9L410.3 711.1L422 682.8L434.9 655.8L448.8 630.9L463.2 608.6L477.7 589.4L492.1 574L505.9 562.7L518.8 555.7L530.4 553.3L540.5 555.5L548.8 562.3L555.1 573.4"/><ellipse class="w" cx="490" cy="740" rx="65" ry="193" transform="rotate(21 490 740)"/><ellipse class="w" cx="487" cy="745" rx="30" ry="80" transform="rotate(21 487 745)"/><path class="k" d="M470 700L490 715L470 760L455 790L470 800M500 690Q490 740 455 800"/><ellipse class="w" cx="582" cy="158" rx="45" ry="93" transform="rotate(19 582 158)" style="stroke-width:2.2"/><path class="k" d="M600 90Q625 110 620 135L600 130Q585 150 600 170L575 180Q560 195 580 215L560 225" style="stroke-width:1.6"/><path class="k" d="M570 95Q545 150 555 225" style="stroke-width:1.3"/></g></g>
<g id="39_37"><g transform="translate(260 410) scale(0.10309)"><ellipse class="w" cx="150" cy="290" rx="95" ry="186" transform="rotate(12.3 150 290)"/><path class="k" d="M250 130L185 105M175 478L110 466"/><ellipse class="w" cx="215" cy="305" rx="84" ry="176" transform="rotate(12.3 215 305)" style="stroke-width:1.8"/><ellipse class="k" cx="210" cy="302" rx="60" ry="140" transform="rotate(12.3 210 302)" style="stroke-width:1.8"/><path class="t" d="M205 190Q225 260 200 330Q180 380 150 390M160 200Q130 290 150 400"/><ellipse class="t" cx="200" cy="305" rx="42" ry="112" transform="rotate(12.3 200 305)"/><ellipse class="w" cx="408" cy="353" rx="119" ry="252" transform="rotate(13.8 408 353)"/><path class="w" style="stroke:none" d="M408 353m-60 245L490 640L610 150L468 108Z"/><path class="k" d="M610 150L468 108M490 640L348 598"/><ellipse class="w" cx="548" cy="395" rx="119" ry="252" transform="rotate(13.8 548 395)" style="stroke-width:2.6"/><ellipse class="k" cx="555" cy="395" rx="76" ry="162" transform="rotate(13.8 555 395)" style="stroke-width:2.2"/><ellipse class="t" style="stroke:#555" cx="548" cy="395" rx="44" ry="96" transform="rotate(13.8 548 395)"/><ellipse class="w" cx="822" cy="452" rx="140" ry="285" transform="rotate(17 822 452)"/><path class="k" d="M826.1 703.8L805 715.1L784.5 721.4L764.8 722.5L746.4 718.5L729.6 709.4L714.8 695.4L702.2 676.8L692.1 653.9L684.7 627.1L680.1 597L678.3 564.1L679.5 529.1L683.6 492.7L690.6 455.4L700.2 418.1L712.3 381.4L726.7 346.1L743.2 312.8L761.3 282.1L780.8 254.7L801.2 231.1L822.2 211.6L843.4 196.8L864.4 186.8"/><path class="k" d="M834.8 700.7L814.3 712L794.4 718.3L775.4 719.5L757.7 715.7L741.6 706.9L727.4 693.2L715.3 675L705.7 652.5L698.7 626.2L694.5 596.6L693 564.3L694.4 529.8L698.5 493.9L705.5 457.2L715 420.5L726.9 384.3L741.1 349.5L757.1 316.6L774.8 286.3L793.8 259.3L813.7 235.9L834.1 216.6L854.7 201.8L875 191.9"/><ellipse class="w" cx="856" cy="455" rx="124" ry="270" transform="rotate(17 856 455)" style="stroke-width:1.3"/><ellipse class="k" cx="878" cy="460" rx="88" ry="205" transform="rotate(17 878 460)" style="stroke-width:2"/><ellipse class="k" cx="890" cy="465" rx="66" ry="172" transform="rotate(17 890 465)" style="stroke-width:2"/><path class="w" d="M900 340L990 370Q1035 380 1010 410L985 400M900 340Q840 420 820 480L910 510Q930 430 990 370"/><path class="k" d="M820 480L815 560L850 580L890 560L910 510M835 500L860 545L890 515"/><path class="k" d="M905 300Q940 300 945 345M960 290Q985 320 980 360"/></g></g>
<g id="40motor"><path class="w" d="M38 316.4L63.3 318.2L60.7 330.4L36.7 327.8Z"/><path class="w" d="M24 327.3L46.8 329.9L48.1 340.5L39.2 350.6L25.3 338Z"/><path class="t" d="M24.5 328.5L46 331"/><path class="w" d="M11.4 353.6L32.9 359.5L38 363.3L32.9 366.3L11.4 357Z"/><path class="t" d="M32.9 359.5L32.9 366.3"/><path class="w" d="M5.1 387.3L11.4 381L30.4 380.5L32.9 388.6L26.6 394.9Z"/><path class="t" d="M5.6 389L26.6 396.6"/><path class="w" d="M13.9 400L32.9 396.2L35.4 406.3L30.4 420.2L7.6 411.3Z"/><path class="w" d="M19 417.7L40.5 427.8L38 431.6L17.7 421.5Z"/><path class="k" d="M39.6 433.4L38.1 431.1L36.8 428.1L35.8 424.4L35.1 420.1L34.7 415.3L34.6 409.9L34.9 404.2L35.5 398.1L36.3 391.7L37.5 385.1L39 378.5L40.7 371.8L42.7 365.2L44.9 358.7L47.2 352.5L49.8 346.5L52.4 341L55.2 336L58 331.4L60.8 327.5L63.6 324.2L66.3 321.5L69 319.6L71.5 318.4"/><path class="t" d="M41.2 432.4L40 430L39 427L38.3 423.3L37.8 419.1L37.6 414.4L37.8 409.2L38.2 403.6L38.8 397.7L39.8 391.6L41 385.2L42.5 378.8L44.1 372.3L46 365.9L48.1 359.7L50.3 353.6L52.7 347.8L55.1 342.4L57.7 337.4L60.2 332.9L62.8 328.9L65.4 325.6L67.9 322.8L70.3 320.7L72.6 319.3"/><path class="t" d="M41.4 424.9L41 421.9L40.8 418.5L40.8 414.9L40.9 410.9L41.2 406.7L41.6 402.2L42.3 397.6L43 392.8L44 387.8L45 382.8L46.2 377.8L47.6 372.7L49 367.7L50.6 362.7L52.3 357.9L54 353.2L55.8 348.7L57.7 344.4L59.6 340.3L61.5 336.6L63.4 333.1L65.4 330L67.3 327.2L69.2 324.8"/><path class="w" style="stroke:none" d="M45.1 433.5L43.6 432.7L42.2 431.3L41.1 429.3L40.1 426.7L39.4 423.6L38.9 419.9L38.7 415.7L38.7 411L38.9 406L39.3 400.6L40 394.9L40.9 389L42 382.9L43.4 376.8L44.9 370.6L46.5 364.5L48.4 358.4L50.3 352.6L52.4 347L54.5 341.7L56.8 336.8L59 332.2L61.3 328.2L63.6 324.6L65.8 321.6L68 319.2L70 317.4L72 316.2L73.9 315.6L75.6 315.7L172.4 340.8L141.9 458.5Z"/><path class="k" d="M44.6 433.3L43.5 432.6L42.5 431.7L41.6 430.4L40.8 428.7L40.1 426.7L39.6 424.5L39.2 421.9L38.9 419.1L38.7 416L38.6 412.6L38.7 409L38.9 405.3L39.2 401.3L39.7 397.2L40.3 392.9L41 388.6L41.8 384.1L42.7 379.6L43.7 375.1L44.9 370.6L46.1 366.1L47.4 361.6L48.7 357.3L50.2 353L51.7 348.8L53.2 344.8L54.8 341L56.5 337.4L58.1 334L59.8 330.8L61.4 327.9L63.1 325.3L64.8 323L66.4 320.9L68 319.2L69.5 317.8L71 316.7L72.4 316L73.8 315.7L75 315.6"/><path class="k" style="stroke:#222;stroke-width:1.1" d="M75.5 315.7L169.5 340"/><path class="k" style="stroke:#222;stroke-width:0.6" d="M72 316.2L169.1 341.3"/><path class="k" style="stroke:#222;stroke-width:0.6" d="M67.7 319.4L170.6 346"/><path class="k" style="stroke:#222;stroke-width:0.6" d="M66.1 321.2L168.8 347.7"/><path class="k" style="stroke:#222;stroke-width:0.6" d="M62.5 326.3L164.5 352.6"/><path class="k" style="stroke:#222;stroke-width:0.6" d="M60.9 328.8L162.7 355.2"/><path class="k" style="stroke:#222;stroke-width:0.6" d="M59.8 330.9L161.4 357.1"/><path class="k" style="stroke:#222;stroke-width:1.1" d="M57.7 334.8L159 361"/><path class="k" style="stroke:#222;stroke-width:0.6" d="M56.1 338.1L157.2 364.2"/><path class="k" style="stroke:#222;stroke-width:0.6" d="M55.2 340.2L156.1 366.3"/><path class="k" style="stroke:#222;stroke-width:0.6" d="M53.2 344.9L153.9 370.9"/><path class="k" style="stroke:#222;stroke-width:0.6" d="M51.6 348.9L152.2 374.9"/><path class="k" style="stroke:#222;stroke-width:0.6" d="M50.9 351L151.3 377"/><path class="k" style="stroke:#222;stroke-width:1.3" d="M43.4 376.6L143.5 402.5"/><path class="k" style="stroke:#222;stroke-width:0.6" d="M42.7 379.6L142.9 405.5"/><path class="k" style="stroke:#222;stroke-width:0.6" d="M42.1 382.5L142.3 408.4"/><path class="k" style="stroke:#222;stroke-width:0.6" d="M41.7 384.6L142 410.5"/><path class="k" style="stroke:#222;stroke-width:0.6" d="M41 388.2L141.4 414.2"/><path class="k" style="stroke:#222;stroke-width:0.6" d="M40.7 390.3L141.1 416.3"/><path class="k" style="stroke:#222;stroke-width:0.6" d="M40.2 393.2L140.8 419.2"/><path class="k" style="stroke:#222;stroke-width:0.6" d="M39.9 395.4L140.5 421.4"/><path class="k" style="stroke:#222;stroke-width:1.1" d="M39.6 398.3L140.3 424.4"/><path class="k" style="stroke:#222;stroke-width:0.6" d="M39.1 403.4L140.1 429.5"/><path class="k" style="stroke:#222;stroke-width:0.6" d="M38.9 405.7L140 431.8"/><path class="k" style="stroke:#222;stroke-width:0.6" d="M38.7 409.3L140.1 435.5"/><path class="k" style="stroke:#222;stroke-width:0.6" d="M38.6 411.6L140.2 437.8"/><path class="k" style="stroke:#222;stroke-width:0.6" d="M38.7 415.3L140.5 441.6"/><path class="k" style="stroke:#222;stroke-width:0.6" d="M38.8 417.6L140.8 444"/><path class="k" style="stroke:#222;stroke-width:0.6" d="M39.1 421.4L141.5 447.9"/><path class="k" style="stroke:#222;stroke-width:0.6" d="M39.5 424.2L142.2 450.8"/><path class="k" style="stroke:#222;stroke-width:0.6" d="M40.5 428L143.5 454.6"/><path class="k" style="stroke:#222;stroke-width:1.2" d="M43.7 432.8L146.2 459.3"/><path class="k" d="M52.5 436.5Q50.5 441.5 55 443.5L128 462"/><path class="t" d="M52 437L128.5 456.5"/><path class="k" d="M128 455.5Q126 459 128.5 462.8M131.5 456.5Q129.5 460 132 463.6M133.5 457.5L148 461.5M133 464L146.5 467.5"/><path class="w" d="M153.2 463.6L150.4 462.3L147.9 460L145.8 456.7L144.1 452.5L142.7 447.5L141.9 441.6L141.5 435.1L141.6 428.1L142.1 420.6L143.1 412.8L144.6 404.9L146.4 396.9L148.7 389L151.3 381.3L154.2 374L157.3 367.2L160.7 361L164.2 355.5L167.7 350.8L171.3 347L174.9 344.2L178.4 342.4L181.6 341.6L184.7 341.8L187.5 343.1L190 345.4L192.2 348.7L193.9 352.9L195.2 357.9L196.1 363.8L196.5 370.2L196.4 377.3L195.8 384.8L194.8 392.6L193.4 400.5L191.5 408.5L189.3 416.4L186.7 424.1L183.8 431.4L180.6 438.2L177.3 444.4L173.8 449.9L170.2 454.6L166.6 458.3L163.1 461.2L159.6 463L156.3 463.8L153.2 463.6Z"/><path class="k" d="M156.4 463.4L154.6 462.7L152.9 461.5L151.3 459.9L149.9 457.8L148.7 455.4L147.7 452.6L146.8 449.3L146.1 445.8L145.7 441.9L145.4 437.7L145.3 433.2L145.4 428.6L145.8 423.7L146.3 418.7L147 413.6L147.9 408.4L149 403.1L150.3 397.9L151.7 392.7L153.3 387.5L155 382.5L156.9 377.7L158.9 373.1L160.9 368.6L163.1 364.5L165.3 360.6L167.6 357.1L169.9 353.9L172.2 351.2L174.5 348.8L176.8 346.8L179.1 345.2L181.3 344.1L183.4 343.5L185.4 343.3L187.4 343.5L189.2 344.2L190.9 345.4L192.4 347L193.8 349"/><path class="k" d="M163.7 462.4L161.8 462.2L160.1 461.5L158.5 460.3L157 458.7L155.7 456.7L154.6 454.2L153.6 451.4L152.9 448.2L152.3 444.6L151.9 440.7L151.7 436.5L151.7 432.1L151.9 427.4L152.3 422.6L153 417.6L153.8 412.6L154.7 407.4L155.9 402.3L157.2 397.1L158.7 392L160.3 387L162.1 382.2L163.9 377.5L165.9 373.1L168 368.9L170.1 365L172.3 361.4L174.5 358.2L176.8 355.3L179 352.8L181.2 350.8L183.4 349.1L185.5 348L187.6 347.2L189.5 347L191.4 347.1L193.2 347.8L194.8 348.9L196.3 350.5L197.6 352.4"/><path class="k" d="M169.6 461.8L167.7 462L165.9 461.7L164.2 461L162.7 459.8L161.3 458.1L160.1 456L159 453.5L158.1 450.6L157.5 447.3L157 443.7L156.7 439.7L156.6 435.5L156.7 431L157 426.3L157.5 421.4L158.2 416.4L159.1 411.3L160.1 406.1L161.4 401L162.8 395.9L164.3 390.8L166 385.9L167.8 381.2L169.7 376.7L171.7 372.4L173.8 368.4L175.9 364.7L178.1 361.3L180.3 358.3L182.5 355.8L184.7 353.6L186.9 351.9L189 350.6L191 349.8L192.9 349.4L194.8 349.6L196.5 350.2L198.1 351.2L199.5 352.8L200.8 354.7"/><path class="w" d="M171 338.7L172.6 336.9L177.5 338L176 340.2Z"/><path class="w" d="M176.5 340.5L178.5 337.5L192.6 342L190 345.5L183 350.5L180.5 350Z"/><path class="t" d="M181.5 343.5L180.3 349.8M184.5 344.5L183 350.3M186.5 345L184 349.5"/><path class="w" d="M190.9 343.6L198.6 335.7Q203 333.5 206.2 337.5Q208.5 341.8 205.5 345.2L196.5 354.5L193.5 356L184 351.2Z"/><path class="t" d="M197.5 349.5Q196.5 352.5 197.8 354M199 349.5L197.5 356.5L195 356.2"/><path class="w" d="M127.8 458.1Q126 461.5 128 465L141 469L143 462.5Z"/><path class="t" d="M131 459Q129.5 462.5 131.2 466"/><path class="w" d="M139.5 472L158 460.5Q162.5 459.5 164 463.5L148.5 479.5Q143.5 482.5 139.5 479.5Q137 476 139.5 472Z"/><circle class="k" cx="143.7" cy="475.6" r="4.6"/><circle class="k" cx="143.7" cy="475.6" r="2"/><path class="t" d="M150 467L158 471M153 465.5L160 468.5"/></g>
<g id="40motor_b"><g transform="translate(130 320) scale(0.09372)"><path class="w" style="stroke:none" d="M575 365L700 395L850 445Q930 475 970 540Q1000 600 995 640L960 705L1067 740L1067 1067L470 1067L420 855Q480 650 575 365Z"/><path class="k" d="M440 200Q330 320 255 500Q240 560 235 615"/><path class="k" d="M490 255Q390 330 300 500Q265 580 250 635"/><path class="k" d="M530 325Q420 390 350 510Q320 570 310 605"/><path class="k" d="M575 365Q470 410 390 530Q365 580 355 612"/><path class="w" d="M420 210L445 190L500 205L480 235Z"/><path class="w" d="M490 215L510 200L665 255L600 300L575 345L540 335L535 280Z"/><path class="t" d="M560 270L545 330M590 275L572 335M620 265L580 310"/><path class="w" d="M650 250L735 165Q790 140 820 200Q835 250 800 285L720 370L690 385L585 350L600 300Z"/><path class="t" d="M712 340Q715 300 730 305Q740 320 722 345ZM735 345L720 395L690 385"/><path class="w" d="M10 625L235 690L120 790L0 735Q-40 680 10 625Z"/><path class="t" d="M40 632Q15 680 35 750M70 640Q45 690 65 762M165 680Q150 700 160 720L215 700"/><path class="w" d="M100 810L300 625Q345 600 362 635Q370 700 320 760L200 880Q150 905 110 880Q80 850 100 810Z"/><path class="t" d="M280 770Q285 740 298 745Q305 760 290 790ZM300 790L280 860L250 850L270 820"/><circle class="k" cx="145" cy="850" r="48"/><circle class="k" cx="145" cy="850" r="20"/><path class="k" d="M150 900L130 1067M200 880L165 1067M225 870L200 1000M180 1000L255 1015L250 1067"/><path class="k" d="M580 365L700 395L850 445Q930 475 970 540Q1000 600 995 640L960 705L900 590L930 495"/><path class="k" d="M600 510Q500 650 420 855"/><path class="k" d="M690 545Q600 660 550 805"/><path class="k" d="M740 580Q660 700 600 830"/><path class="k" d="M850 470Q780 500 740 580M940 490Q850 470 800 520M915 500L880 610"/><path class="w" d="M420 855L460 775L560 810L625 865L590 885Z"/><path class="w" style="fill:#555;stroke-width:1.2" d="M610 490L665 430L735 455L740 490L690 545L620 520Z"/><path class="w" style="stroke-width:.5" d="M640 480L675 450L715 465L690 500Z"/><ellipse class="k" cx="820" cy="555" rx="24" ry="50" transform="rotate(15 820 555)"/><ellipse class="k" cx="820" cy="560" rx="10" ry="30" transform="rotate(15 820 560)"/><ellipse class="k" cx="680" cy="700" rx="22" ry="55" transform="rotate(15 680 700)"/><circle class="b" cx="747" cy="597" r="8"/><path class="k" d="M520 890L470 1067M560 890L510 1067"/><path class="kk" style="stroke-width:1.4" d="M780 660L840 680L870 720L1020 760"/><path class="kk" style="stroke-width:1.4" d="M720 720L790 735L810 770L1000 830"/><path class="kk" style="stroke-width:1.4" d="M720 720L725 780L990 860"/><path class="kk" style="stroke-width:1.4" d="M780 660L785 715"/><path class="kk" style="stroke-width:2.3" d="M600 895Q640 930 700 940L930 1010L1000 1015"/><path class="k" style="stroke-width:1.5;stroke:#444" d="M650 880Q620 960 610 1067"/></g></g>
<g id="40motor_c"><g transform="translate(160 370) scale(0.10309)"><path class="w" d="M40 505L215 545L195 600L210 620Q200 700 240 780L265 820L250 850L330 900L440 810L400 870L330 945L290 930Q160 980 80 890C30 800 15 650 40 505Z"/><path class="k" d="M330 900Q300 925 290 930"/><path class="k" d="M130 520L180 330M175 525L215 330"/><path class="w" style="stroke:none" d="M265 530Q250 450 290 390L350 375L560 440L520 590L500 600Z"/><path class="k" style="stroke:#555;stroke-width:1.4" d="M265 530Q250 450 290 390"/><path class="kk" style="stroke-width:1.4" d="M195 600L260 530L500 600"/><path class="kk" style="stroke-width:1.4" d="M195 600L330 575L490 625"/><path class="k" d="M195 690L260 625L480 690"/><path class="kk" style="stroke-width:1.4" d="M195 690L320 670L470 710"/><path class="k" d="M210 620Q205 650 215 680"/><path class="kk" style="stroke-width:1.4" d="M250 850L295 740L540 810"/><path class="kk" style="stroke-width:1.4" d="M250 850L360 785L350 830L420 800L440 810"/><path class="k" d="M300 735L520 790"/><path class="kk" style="stroke-width:2.3" d="M250 325Q290 370 350 375L560 440L610 445"/><path class="k" d="M280 345Q300 380 330 385"/><path class="kk" style="stroke-width:1.4" d="M415 110L470 125L500 165L640 195"/><path class="kk" style="stroke-width:1.4" d="M365 165L425 180L450 215L625 265"/><path class="kk" style="stroke-width:1.4" d="M365 165L370 225L615 295"/><path class="kk" style="stroke-width:1.4" d="M415 110L420 165"/><path class="k" d="M440 190L630 240"/><path class="kk" style="stroke-width:1.4" d="M640 300Q560 420 520 590"/><path class="k" style="stroke:#333" d="M655 330Q590 430 548 575M680 320Q615 420 575 600M700 290Q640 360 600 470"/><path class="w" d="M650 170L680 150L770 180L790 210L870 235L905 310L940 330L950 385L915 445L860 640L800 805L790 870L745 925L640 890L600 830L575 790L560 620L600 625L625 300L635 215Z"/><path class="k" d="M635 215L730 245L745 215L770 180M730 245L700 300"/><ellipse class="k" cx="762" cy="528" rx="108" ry="305" transform="rotate(14.8 762 528)"/><ellipse class="k" cx="745" cy="535" rx="100" ry="294" transform="rotate(14.8 745 535)"/><ellipse class="w" cx="726" cy="540" rx="92" ry="284" transform="rotate(14.8 726 540)"/><path class="t" d="M850 300Q895 420 860 600M870 320Q910 430 880 590"/><ellipse cx="755" cy="235" rx="14" ry="24" transform="rotate(15 755 235)" fill="#999" stroke="#333" stroke-width="5"/><ellipse cx="915" cy="385" rx="14" ry="24" transform="rotate(15 915 385)" fill="#999" stroke="#333" stroke-width="5"/><ellipse cx="760" cy="860" rx="14" ry="24" transform="rotate(15 760 860)" fill="#999" stroke="#333" stroke-width="5"/><ellipse cx="590" cy="715" rx="14" ry="24" transform="rotate(15 590 715)" fill="#999" stroke="#333" stroke-width="5"/><path class="w" d="M480 660Q465 700 475 740L540 770L600 790L600 690L490 655L520 600L600 625"/><path class="k" d="M540 770L560 800L600 830"/></g></g><g class="l"><path d="M99.5 269L53.5 320.5"/><path d="M163 286L95 381"/><path d="M251 307.5L277.3 427.5"/><path d="M280.5 315.5L300.4 436"/><path d="M315 324L349 439.6"/><path d="M348.5 333L379.6 465.2"/><path d="M368.5 338L382.8 464"/><path d="M392 344L389.8 468.8"/><path d="M431 354.5L441.2 468.8"/><path d="M461.5 362L463.7 381"/><path d="M497 371L498.3 395.2"/><path d="M546 383.5L544.7 402.5"/><path d="M583.5 393.5L581.8 421.4"/><path d="M613 401.5L614 427.5"/><path d="M634 406.8L636.6 430.6"/><path d="M653 411.8L653.5 435.4"/><path d="M676.5 417.5L677.4 436.3"/><path d="M697.5 423L700 449.5"/><path d="M491 578.5L522.2 536.6"/><path d="M522.5 587.5L556.5 542.3"/><path d="M556 596L621.2 558.3"/><path d="M576.5 604.5L626 561"/><path d="M591.5 610L589.3 617.4L452.7 732.7L479 770.5"/><path d="M589.3 617.4L615 639"/><path d="M572.8 632L595.2 654"/><path d="M556 647L579.5 672.5"/><path d="M537.4 662.7L563 688"/><path d="M518.5 677.6L549 705"/><path d="M481.9 709L504.7 747.3"/><path d="M445 940L367 864"/><path d="M511.5 877L437.8 801.2"/><path d="M661.5 732.5L632.6 687"/><path d="M692 703.5L667 659.5"/><path d="M710 685.5L677.2 642.9"/><path d="M743 656.5L747.7 636.4"/><path d="M770.5 664.2L771 624.2"/><path d="M811 673.8L813.3 658.1"/><path d="M785.9 628.8L786.6 651.6L838.5 663.9L838.5 642"/><path d="M804.2 655.8L804.2 630.7"/><path d="M819.4 659.4L819.4 632.6"/><path d="M892.5 695.5L893.4 653.6"/><path d="M856 647.8L856 667.7L930 686.7L930.8 667"/><path d="M874.4 672.4L874.4 651.6"/><path d="M910.6 681.7L910.6 659.3"/><path d="M957.5 712.7L957.5 678.4"/><path d="M987 719.5L986.9 686"/><path d="M832 575.6L798 557.4"/><path d="M832 548.9L795.4 551.7"/><path d="M832 523.5L751.5 517"/><path d="M911 392L808.4 513.7L774.7 477.7"/><path d="M828.7 487.8L807.6 463"/><path d="M850.6 463.6L830 440"/><path d="M872.3 437.2L850.6 412.5"/><path d="M894.7 411L867.5 379.3"/><path d="M911 392L885 362.4"/><path d="M986 296L919.6 374.3L894.9 350.4"/><path d="M986 296L962.4 268.2"/><path d="M972.2 311L949.7 285.7"/><path d="M958.1 327.3L932.8 301.1"/><path d="M946.3 341.9L923 315.2"/><path d="M931.4 358.8L907.5 332.1"/><path d="M1005 280.7L979.8 259"/><path d="M1024 259.2L991.9 238.4"/><path d="M1047.5 226.5L984 145"/><path d="M1047.5 226.5L1004.3 172"/><path d="M1047.5 226.5L988 182"/><path d="M1047.5 226.5L1012 208.6"/></g><g class="d"><circle cx="53.5" cy="320.5" r="1.3"/><circle cx="95" cy="381" r="1.3"/><circle cx="277.3" cy="427.5" r="1.3"/><circle cx="300.4" cy="436" r="1.3"/><circle cx="349" cy="439.6" r="1.3"/><circle cx="379.6" cy="465.2" r="1.3"/><circle cx="382.8" cy="464" r="1.3"/><circle cx="389.8" cy="468.8" r="1.3"/><circle cx="441.2" cy="468.8" r="1.3"/><circle cx="463.7" cy="381" r="1.3"/><circle cx="498.3" cy="395.2" r="1.3"/><circle cx="544.7" cy="402.5" r="1.3"/><circle cx="581.8" cy="421.4" r="1.3"/><circle cx="614" cy="427.5" r="1.3"/><circle cx="636.6" cy="430.6" r="1.3"/><circle cx="653.5" cy="435.4" r="1.3"/><circle cx="677.4" cy="436.3" r="1.3"/><circle cx="700" cy="449.5" r="1.3"/><circle cx="522.2" cy="536.6" r="1.3"/><circle cx="556.5" cy="542.3" r="1.3"/><circle cx="621.2" cy="558.3" r="1.3"/><circle cx="626" cy="561" r="1.3"/><circle cx="479" cy="770.5" r="1.3"/><circle cx="615" cy="639" r="1.3"/><circle cx="595.2" cy="654" r="1.3"/><circle cx="579.5" cy="672.5" r="1.3"/><circle cx="563" cy="688" r="1.3"/><circle cx="549" cy="705" r="1.3"/><circle cx="504.7" cy="747.3" r="1.3"/><circle cx="367" cy="864" r="1.3"/><circle cx="437.8" cy="801.2" r="1.3"/><circle cx="632.6" cy="687" r="1.3"/><circle cx="667" cy="659.5" r="1.3"/><circle cx="677.2" cy="642.9" r="1.3"/><circle cx="747.7" cy="636.4" r="1.3"/><circle cx="771" cy="624.2" r="1.3"/><circle cx="838.5" cy="642" r="1.3"/><circle cx="804.2" cy="630.7" r="1.3"/><circle cx="819.4" cy="632.6" r="1.3"/><circle cx="893.4" cy="653.6" r="1.3"/><circle cx="930.8" cy="667" r="1.3"/><circle cx="874.4" cy="651.6" r="1.3"/><circle cx="910.6" cy="659.3" r="1.3"/><circle cx="957.5" cy="678.4" r="1.3"/><circle cx="986.9" cy="686" r="1.3"/><circle cx="798" cy="557.4" r="1.3"/><circle cx="795.4" cy="551.7" r="1.3"/><circle cx="751.5" cy="517" r="1.3"/><circle cx="774.7" cy="477.7" r="1.3"/><circle cx="807.6" cy="463" r="1.3"/><circle cx="830" cy="440" r="1.3"/><circle cx="850.6" cy="412.5" r="1.3"/><circle cx="867.5" cy="379.3" r="1.3"/><circle cx="885" cy="362.4" r="1.3"/><circle cx="894.9" cy="350.4" r="1.3"/><circle cx="962.4" cy="268.2" r="1.3"/><circle cx="949.7" cy="285.7" r="1.3"/><circle cx="932.8" cy="301.1" r="1.3"/><circle cx="923" cy="315.2" r="1.3"/><circle cx="907.5" cy="332.1" r="1.3"/><circle cx="979.8" cy="259" r="1.3"/><circle cx="991.9" cy="238.4" r="1.3"/><circle cx="984" cy="145" r="1.3"/><circle cx="1004.3" cy="172" r="1.3"/><circle cx="988" cy="182" r="1.3"/><circle cx="1012" cy="208.6" r="1.3"/><circle cx="785.9" cy="628.8" r="1.3"/><circle cx="856" cy="647.8" r="1.3"/></g><g class="g"><use href="#g4" x="100.5" y="254.5"/><use href="#g1" x="108.9" y="254.5"/><use href="#g4" x="164" y="271.5"/><use href="#g0" x="172.4" y="271.5"/><use href="#g3" x="235.3" y="293"/><use href="#g9" x="243.7" y="293"/><use href="#g3" x="264.5" y="301"/><use href="#g8" x="272.9" y="301"/><use href="#g3" x="299.5" y="309.5"/><use href="#g7" x="307.9" y="309.5"/><use href="#g3" x="333.3" y="318.5"/><use href="#g6" x="341.7" y="318.5"/><use href="#g3" x="352.3" y="323.5"/><use href="#g5" x="360.7" y="323.5"/><use href="#g3" x="375.5" y="329.5"/><use href="#g4" x="383.9" y="329.5"/><use href="#g3" x="415.3" y="340"/><use href="#g3" x="423.7" y="340"/><use href="#g3" x="445.5" y="347.5"/><use href="#g2" x="453.9" y="347.5"/><use href="#g3" x="481.5" y="356.5"/><use href="#g1" x="489.9" y="356.5"/><use href="#g3" x="529.5" y="369"/><use href="#g0" x="537.9" y="369"/><use href="#g2" x="566.8" y="379"/><use href="#g9" x="575.2" y="379"/><use href="#g2" x="596.4" y="387"/><use href="#g8" x="604.8" y="387"/><use href="#g2" x="617.6" y="392.3"/><use href="#g7" x="626" y="392.3"/><use href="#g2" x="636.8" y="397.3"/><use href="#g6" x="645.2" y="397.3"/><use href="#g2" x="660" y="403"/><use href="#g5" x="668.4" y="403"/><use href="#g2" x="681" y="408.5"/><use href="#g4" x="689.4" y="408.5"/><use href="#g2" x="474.5" y="564"/><use href="#g3" x="482.9" y="564"/><use href="#g2" x="506.5" y="573"/><use href="#g2" x="514.9" y="573"/><use href="#glp" x="535.5" y="581.5"/><use href="#g7" x="543.9" y="581.5"/><use href="#grp" x="552.3" y="581.5"/><use href="#g2" x="561.5" y="590"/><use href="#g1" x="569.9" y="590"/><use href="#g2" x="592.5" y="595.5"/><use href="#g0" x="600.9" y="595.5"/><use href="#g1" x="446" y="925.5"/><use href="#g9" x="454.4" y="925.5"/><use href="#g1" x="512.5" y="862.5"/><use href="#g8" x="520.9" y="862.5"/><use href="#g1" x="662.5" y="718"/><use href="#g7" x="670.9" y="718"/><use href="#g1" x="693" y="689"/><use href="#g6" x="701.4" y="689"/><use href="#g1" x="711" y="670.5"/><use href="#g5" x="719.4" y="670.5"/><use href="#g1" x="728.5" y="642"/><use href="#g4" x="736.9" y="642"/><use href="#g1" x="771.5" y="649.7"/><use href="#g3" x="779.9" y="649.7"/><use href="#g1" x="796.2" y="659.3"/><use href="#g2" x="804.6" y="659.3"/><use href="#g1" x="878.2" y="681"/><use href="#g1" x="886.6" y="681"/><use href="#g1" x="958.5" y="698.2"/><use href="#g0" x="966.9" y="698.2"/><use href="#g9" x="990.5" y="705"/><use href="#g8" x="835" y="562"/><use href="#g7" x="835" y="535"/><use href="#g6" x="835" y="509.5"/><use href="#g5" x="914.5" y="377.3"/><use href="#g4" x="990.5" y="281.3"/><use href="#g3" x="1008.8" y="266"/><use href="#g2" x="1028" y="244.8"/><use href="#g1" x="1050" y="212"/></g><g class="u"><path d="M100.3 268.4L115.7 268.4"/><path d="M163.8 285.4L179.7 285.4"/><path d="M235.3 306.9L250.2 306.9"/><path d="M264.3 314.9L279.7 314.9"/><path d="M299.3 323.4L314.2 323.4"/><path d="M333.3 332.4L347.7 332.4"/><path d="M352.3 337.4L367.7 337.4"/><path d="M375.8 343.4L391.2 343.4"/><path d="M415.3 353.9L430.2 353.9"/><path d="M445.3 361.4L460.7 361.4"/><path d="M481.3 370.4L496.2 370.4"/><path d="M529.3 382.9L545.2 382.9"/><path d="M566.8 392.9L582.7 392.9"/><path d="M596.3 400.9L612.2 400.9"/><path d="M617.3 406.2L633.2 406.2"/><path d="M636.8 411.2L652.2 411.2"/><path d="M659.8 416.9L675.7 416.9"/><path d="M680.8 422.4L696.7 422.4"/><path d="M474.3 577.9L490.2 577.9"/><path d="M506.3 586.9L521.7 586.9"/><path d="M537.8 595.4L555.2 595.4"/><path d="M561.3 603.9L575.7 603.9"/><path d="M592.3 609.4L607.7 609.4"/><path d="M445.8 939.4L461.2 939.4"/><path d="M512.3 876.4L527.2 876.4"/><path d="M662.3 731.9L677.7 731.9"/><path d="M692.8 702.9L707.7 702.9"/><path d="M710.8 684.9L725.7 684.9"/><path d="M728.3 655.9L742.2 655.9"/><path d="M771.3 663.6L785.2 663.6"/><path d="M796.3 673.2L810.2 673.2"/><path d="M878.3 694.9L891.7 694.9"/><path d="M958.3 712.1L972.7 712.1"/><path d="M987 718.9L1002 718.9"/><path d="M832 575.6L846.5 575.6"/><path d="M832 548.9L846.5 548.9"/><path d="M832 523.5L846.5 523.5"/><path d="M911 391.4L927 391.4"/><path d="M986 295.4L1002 295.4"/><path d="M1005 280.1L1020.5 280.1"/><path d="M1024 258.6L1039.5 258.6"/><path d="M1047.5 225.9L1062.5 225.9"/></g>
</svg>
</body></html>
